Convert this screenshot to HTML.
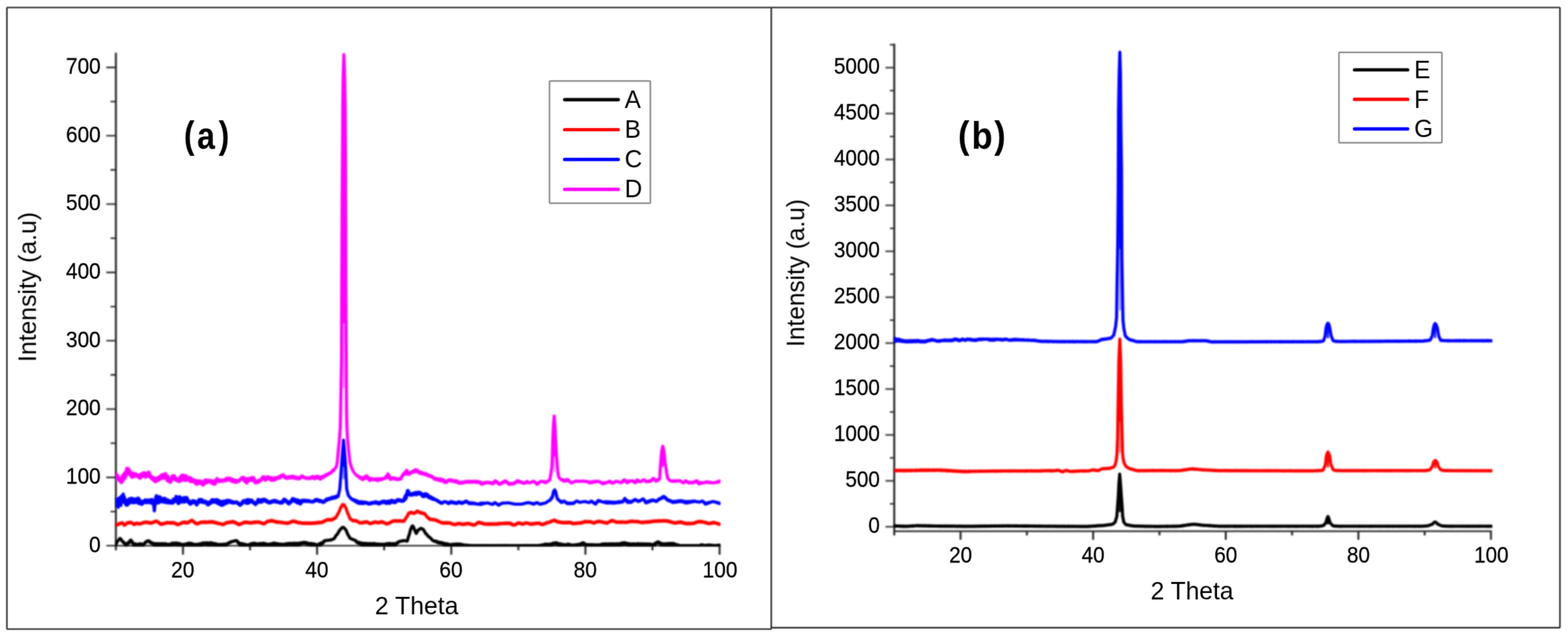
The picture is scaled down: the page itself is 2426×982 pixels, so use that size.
<!DOCTYPE html>
<html lang="en">
<head>
<meta charset="utf-8">
<title>XRD patterns (a) and (b)</title>
<style>
html,body{margin:0;padding:0;background:#fff;overflow:hidden}
svg{display:block}
text{font-family:"Liberation Sans", Arial, Helvetica, sans-serif;fill:#000}
.t text{stroke:#000;stroke-width:.3px}
.c{fill:none;stroke-width:4.8;stroke-linejoin:round;stroke-linecap:round}
.ax{stroke:#262626;fill:none}
</style>
</head>
<body>
<svg width="2426" height="982" viewBox="0 0 2426 982">
<defs>
<filter id="bl" x="0" y="0" width="2426" height="982" filterUnits="userSpaceOnUse"><feGaussianBlur stdDeviation="0.85"/></filter>
<filter id="bt" x="0" y="0" width="2426" height="982" filterUnits="userSpaceOnUse" color-interpolation-filters="sRGB"><feConvolveMatrix order="3" kernelMatrix=".0192 .1001 .0192 .1001 .5228 .1001 .0192 .1001 .0192" divisor="1" edgeMode="duplicate" preserveAlpha="false"/></filter>
<filter id="bc" x="0" y="0" width="2426" height="982" filterUnits="userSpaceOnUse" color-interpolation-filters="sRGB"><feConvolveMatrix order="3" kernelMatrix=".0311 .1141 .0311 .1141 .4191 .1141 .0311 .1141 .0311" divisor="1" edgeMode="duplicate" preserveAlpha="false"/></filter>
<filter id="bf" x="0" y="0" width="2426" height="982" filterUnits="userSpaceOnUse" color-interpolation-filters="sRGB"><feConvolveMatrix order="3" kernelMatrix=".0509 .1238 .0509 .1238 .3012 .1238 .0509 .1238 .0509" divisor="1" edgeMode="duplicate" preserveAlpha="false"/></filter>
<clipPath id="cl"><rect x="178.8" y="60" width="935.9" height="784.8"/></clipPath>
<clipPath id="cr"><rect x="1383.1" y="60" width="925.4" height="770"/></clipPath>
</defs>
<rect width="2426" height="982" fill="#fff"/>
<g filter="url(#bf)" fill="none" stroke="#2e2e2e" stroke-width="2.4" stroke-linejoin="round">
<rect x="10.7" y="11.6" width="1182.6" height="961.3" rx="0.8"/>
<path d="M1193.3 11.6H2412.7q.8 0 .8 .8V970q0 .8-.8 .8H1193.3"/>
</g>
<g filter="url(#bl)">
<path class="ax" stroke-width="3" d="M179.3 81.6V851.1M283.1 843.9V857.7M386.9 843.9V851.1M490.6 843.9V857.7M594.4 843.9V851.1M698.2 843.9V857.7M802.0 843.9V851.1M905.8 843.9V857.7M1009.5 843.9V851.1M1113.3 843.9V857.7M1383.6 67.4V828.1M1486.2 821.5V834.7M1588.8 821.5V828.1M1691.3 821.5V834.7M1793.9 821.5V828.1M1896.5 821.5V834.7M1999.1 821.5V828.1M2101.7 821.5V834.7M2204.2 821.5V828.1M2306.8 821.5V834.7"/>
<path class="ax" stroke-width="2.4" d="M177.8 843.9H1114.7M164.5 843.9H179.3M164.5 738.2H179.3M164.5 632.6H179.3M164.5 526.9H179.3M164.5 421.3H179.3M164.5 315.6H179.3M164.5 209.9H179.3M164.5 104.3H179.3M171.1 791.1H179.3M171.1 685.4H179.3M171.1 579.8H179.3M171.1 474.1H179.3M171.1 368.4H179.3M171.1 262.8H179.3M171.1 157.1H179.3M1382.1 821.5H2308.2M1370.0 814.6H1383.6M1370.0 743.6H1383.6M1370.0 672.6H1383.6M1370.0 601.6H1383.6M1370.0 530.6H1383.6M1370.0 459.6H1383.6M1370.0 388.6H1383.6M1370.0 317.6H1383.6M1370.0 246.6H1383.6M1370.0 175.6H1383.6M1370.0 104.6H1383.6M1376.8 779.1H1383.6M1376.8 708.1H1383.6M1376.8 637.1H1383.6M1376.8 566.1H1383.6M1376.8 495.1H1383.6M1376.8 424.1H1383.6M1376.8 353.1H1383.6M1376.8 282.1H1383.6M1376.8 211.1H1383.6M1376.8 140.1H1383.6M1376.8 69.1H1383.6"/>
</g>
<g filter="url(#bl)">
<g clip-path="url(#cl)">
<path class="c" stroke="#000" d="M179.2 842.5l.5-2.6l.4 .4l.5-2.4l.5 .6l.4-1.6l.5-.3l.5-.5l.4-.3l.5-.7l.5-.5l.5-.7l.5-.4l.4-.6l.5-.2l.5 .2l.5 .8l.5 .3l.5 1.2l.6 .4l.5 1.2l.5 .2l.5 1l.5-.3l.5 1.2l.5-.3l.5 1.3l.5-.2l.5 1.6l.5-.7l.5 1.9l.5-1.1l.5 1.2l.5-1.6l.5 .7l.5-1l.6 .9l.5-1.9l.5 1.8l.5-2.6l.5 1.8l.4-2.5l.5 .8l.5-1.8l.5 .1l.5-1.5l.4-.1l.5-.6l.5 .7l.5 .3l.5 1.5l.5-.3l.4 2l.5 0l.5 2l.5-1.1l.5 2.5l.5-2l.5 1.8l.4-1.7l.5 1.8l.5-1.3l.5 1.6l.5-1.6l.5 1.5l.4-1.2l.5 1.3l.5-1l.5 1l.5-.9l.5 .8l.5-1.2l.5 1l.5-1.3l.5 1.3l.5-1.3l.5 1.5l.5-1.9l.5 1.9l.5-1.3l.5 1.2l.5-1.4l.5 1.4l.5-1.3l.5 1.3l.5-1.1l.5 .8l.5-.9l.5 1l.5-1.6l.5 .5l.5-1.9l.5 .5l.5-1.5l.5 .3l.5-1l.5 .3l.5-.9l.6 .1l.5-.7l.5-.1l.5-.4l.5 .4l.5-.1l.5 .9l.5-.2l.5 1.3l.5-.7l.5 1.5l.5-.8l.5 1.7l.5-1.4l.5 1.6l.5-.9l.5 1.8l.5-1.5l.6 1.7l.5-.7l.5 1.6l.5-1.5l.5 2l.5-2.1l.5 1.8l.5-1.7l.6 1.6l.5-1.5l.5 1.7l.5-1.7l.5 1.4l.5-1.6l.5 2l.5-1.7l.6 1.5l.5-1.8l.5 2.1l.5-1.8l.5 1.8l.5-1.4l.5 1.2l.5-1.7l.5 2l.5-2.1l.5 1.4l.6-1.5l.5 1.6l.5-1.3l.5 2l.5-2.1l.5 1.3l.5-1.3l.5 2l.5-1.7l.5 1.4l.5-2l.6 2.5l.5-2l.5 1.4l.5-1.1l.5 1.7l.5-1.3l.5 1.2l.5-1.4l.6 1.1l.5-1l.5 1.2l.5-.8l.5 .7l.5-1l.5 .6l.5-.8l.5 1l.5-1.3l.5 1.2l.6-2.2l.5 1.9l.5-1.2l.5 1.3l.5-2.5l.5 1.9l.5-1.2l.5 1.9l.5-1.9l.5 1.8l.5-2.3l.6 1.9l.5-2.2l.5 1.9l.5-1l.5 1.9l.5-2.3l.5 1.8l.5-1.8l.6 2.2l.5-2.1l.5 2.4l.5-2.4l.5 1.8l.5-1.4l.5 1.6l.5-1l.5 1.3l.5-1.2l.5 1.4l.5-1l.5 1.1l.5-.9l.5 .9l.5-.5l.5 .5l.5-.9l.5 1l.5-1.3l.5 .9l.5-.7l.5 1l.5-1.5l.5 1.3l.5-1.4l.5 .9l.5-1.3l.5 1.8l.5-1.8l.5 1.6l.5-2.3l.4 2.2l.5-2.5l.5 2.9l.5-2.7l.5 2.4l.5-2.2l.5 2.3l.5-1.8l.5 1.7l.4-2.4l.5 2.5l.5-1.8l.5 1.5l.5-1.4l.5 1.5l.5-.9l.5 1.2l.5-1.1l.5 1.4l.5-1.1l.5 1l.4-.9l.5 1l.5-.9l.5 .6l.5-.6l.5 .8l.5-.6l.5 .6l.5-1.1l.5 1l.5-1l.5 1.2l.5-1.7l.5 1.6l.5-1.7l.5 .9l.4-.8l.5 1.2l.5-1.5l.5 .9l.5-1.3l.5 2l.5-2.4l.5 1.6l.5-1.6l.5 1.9l.5-2.6l.5 2.3l.5-2.2l.5 2.5l.5-2.2l.5 1.6l.5-1.8l.5 2.1l.5-2.1l.5 2.1l.5-1.9l.5 2.1l.5-2.7l.5 3.2l.5-2.7l.5 2.1l.4-1.9l.5 2.6l.5-2.5l.5 2.4l.5-2.4l.5 2l.5-2.8l.5 3l.5-2.3l.5 1.9l.5-2.4l.5 2.9l.5-2.5l.5 2.7l.5-2.4l.5 2l.5-1.3l.5 2.1l.6-2.4l.5 2.2l.5-2.2l.5 2.3l.5-1.6l.5 1.6l.5-1.8l.5 1.6l.5-1.3l.6 1.7l.5-1.1l.5 .8l.5-.8l.5 .7l.5-.7l.5 .8l.5-.6l.5 .8l.5-1.1l.4 .9l.5-.7l.5 .8l.5-1l.5 .7l.5-.9l.5 1.1l.5-.7l.5 .7l.5-.8l.5 1l.5-1.2l.4 .9l.5-1.2l.5 1.4l.5-1.2l.5 1.1l.5-1.1l.5 1.1l.5-1.4l.5 1l.5-1.7l.5 1l.4-1.5l.5 1l.5-1.4l.5 .6l.5-.9l.5 .3l.5-.9l.5 .3l.4-1l.5 .2l.5-.6l.5 .1l.5-.4l.5 .2l.5-.4l.5 .1l.5-.2l.5 0l.5-.3l.5 0l.4-.4l.5 .2l.5-.4l.5 0l.5-.2l.5 .1l.5-.3l.5 .1l.5 .1l.5 .9l.5-.1l.5 1.8l.5-.9l.5 2.3l.5-.8l.5 1.8l.5-1.6l.5 2.9l.5-1.7l.5 1.6l.5-1.8l.5 2.1l.5-1.9l.5 1.9l.4-1.7l.5 1.6l.5-1.7l.5 1.9l.5-1.6l.5 2l.5-1.6l.5 1.3l.5-1.1l.5 .9l.5-.7l.5 1.1l.4-.7l.5 .9l.5-.9l.5 .7l.5-.4l.5 .5l.5-.3l.5 .2l.5-.4l.5 .4l.5-.6l.4 .5l.5-.8l.5 1l.5-1.5l.5 1.4l.5-1.9l.5 1.5l.5-1.6l.4 2.1l.5-2.6l.5 2.2l.5-1.8l.5 2l.5-2.8l.5 2l.5-1.8l.6 2.1l.5-2.3l.5 2.2l.5-1.9l.5 2.3l.5-1.8l.5 1.1l.5-1l.5 1.3l.6-1.1l.5 1.1l.5-1.2l.5 1.5l.5-1.3l.5 1.3l.5-1.7l.5 1.4l.5-1.8l.5 2.3l.6-2l.5 2l.5-1.9l.5 2l.5-2.5l.5 2.2l.5-2.3l.5 1.9l.5-1.6l.5 2.2l.5-3l.5 3l.5-2.1l.5 1.7l.5-1.5l.5 2.1l.5-1.8l.4 1.2l.5-1.3l.5 1.6l.5-1.1l.5 .9l.5-.8l.5 1l.5-.8l.5 .6l.5-.6l.5 .6l.5-.7l.5 1l.5-1.7l.5 1.5l.5-1.3l.5 1.3l.4-1.5l.5 2l.5-2.4l.5 2.2l.5-2.2l.5 1.8l.5-1.9l.5 2.4l.5-3.4l.5 3.3l.5-2.6l.5 2.5l.5-2l.5 1.7l.6-2.1l.5 2.2l.5-1.7l.5 1.3l.5-1.1l.5 1.3l.5-1.7l.5 2.3l.5-1.7l.5 1.7l.5-1.5l.5 .9l.5-.9l.6 1.1l.5-1.1l.5 1.6l.5-1.6l.5 1.3l.5-.9l.5 .9l.5-1.1l.5 1.3l.5-1.4l.5 1l.5-.9l.5 1.2l.5-1.1l.5 1.1l.5-1.5l.5 1.1l.5-1.4l.5 1.8l.5-2.1l.5 2l.5-2l.5 1.3l.5-1.5l.5 1.8l.5-1.8l.5 1.9l.5-1.7l.5 1.7l.5-2.2l.5 1.7l.5-1.3l.5 1.7l.5-2.1l.5 2.2l.5-1.8l.5 1.4l.5-1.5l.5 1.6l.5-2l.5 2.6l.5-2.6l.5 2.7l.5-2.6l.4 1.4l.5-1.4l.5 2l.5-2l.5 2.4l.5-2.5l.5 2l.5-2l.4 3l.5-2.8l.5 1.9l.5-1.6l.5 1.9l.5-2.6l.5 2.1l.5-1.7l.5 1.7l.6-1.8l.5 1.6l.5-2.5l.5 2.2l.5-1.7l.5 1.3l.5-1.7l.6 1l.5-1.3l.5 1.3l.5-1.4l.5 1.2l.5-1.8l.5 2l.5-1.6l.5 1.6l.5-1.5l.5 1.6l.5-1.7l.5 1.9l.5-1.6l.5 2.3l.4-2.1l.5 2.2l.5-1.8l.5 1.9l.5-1.3l.5 1.1l.5-1l.5 1.6l.5-1.6l.5 1.7l.5-1.2l.5 1.6l.5-2.2l.5 1.9l.5-1.8l.5 2.1l.5-1.7l.5 1.3l.5-.9l.5 1.3l.5-1.7l.5 1.7l.5-1.5l.5 1.8l.5-1.2l.5 .8l.6-.7l.5 1.1l.5-.6l.5 .7l.5-.4l.5 .4l.5-.5l.5 .5l.5-.6l.5 .3l.5-1.2l.5 1.1l.4-1.3l.5 1l.5-1.9l.5 2.2l.5-2.2l.5 1.9l.5-2.5l.5 1.8l.5-2.1l.5 1.8l.5-2.4l.5 1.2l.5-2l.5 .7l.5-1.8l.5 .3l.5-.9l.5 0l.5-.5l.5 .2l.5-.3l.5 .2l.6-.2l.5 0l.5-.1l.5 0l.5-.2l.5 .1l.5-.2l.5 0l.5-.2l.6 .1l.5-.2l.5 .1l.5-.2l.5 .1l.5-.3l.5 0l.5-.4l.5 0l.5-.4l.5 0l.5-.3l.5 0l.5-.3l.5-.3l.5-.7l.5-.5l.5-.9l.5-.7l.4-1l.5-.6l.5-.9l.5-.4l.5-.5l.5-.4l.5-.8l.5-.6l.5-1l.5-.9l.5-1l.5-.7l.5-1l.5-.5l.5-.6l.5-.3l.5-.8l.5-.6l.5-.8l.5-.4l.5-.3l.5-.2l.5-.5l.5-.1l.5 .1l.5 .5l.5 .2l.5 .3l.5 .4l.5 .8l.5 .6l.5 .8l.5 .3l.5 .9l.4 .9l.5 1.4l.5 1.2l.5 1.4l.4 .9l.5 .9l.5 .4l.4 .9l.5 .9l.5 1.1l.5 .8l.4 1l.5 .4l.5 .3l.5 0l.5 .3l.5 .1l.5 .4l.5 .1l.6 .4l.5 0l.5 .4l.5 .1l.5 .3l.5 0l.5 .2l.5 0l.5 .7l.5-.1l.4 .8l.5 .1l.5 1.1l.5-.6l.5 1.6l.4-.7l.5 1.6l.5-1.2l.5 1.8l.5-1.4l.5 1.4l.5-1.6l.5 2.5l.5-1.9l.5 1.9l.6-1.3l.5 2l.5-2.2l.5 2.6l.5-1.7l.5 2.4l.5-3l.5 3l.5-2l.5 1.6l.5-2.1l.5 1.7l.5-1.5l.5 2l.5-2.3l.5 2.6l.5-2l.5 1.8l.5-2.4l.5 2.8l.5-2.2l.5 2.1l.5-2l.5 1.4l.5-1.7l.5 1.7l.5-1.1l.5 1.4l.5-2l.5 2.3l.5-2.6l.5 2.4l.5-1.9l.5 2.1l.5-1.9l.5 1.7l.5-1.9l.5 1.9l.5-2l.5 1.9l.5-2.2l.5 2.5l.5-2.5l.5 1.9l.5-1.5l.5 1.5l.5-1.5l.4 1.8l.5-1.7l.5 1.6l.5-1.2l.5 1l.5-1.2l.5 1.6l.5-1.3l.5 1.5l.5-1.6l.5 1.2l.5-1l.5 1.1l.5-1.1l.5 1l.4-.6l.5 .9l.5-1.2l.5 1.3l.5-1.2l.5 1.3l.5-1.2l.5 .7l.5-1l.5 1.3l.5-1l.5 1l.5-.9l.5 .9l.5-1.5l.5 1l.5-.7l.5 .7l.4-1.2l.5 1.9l.5-2.1l.5 1.4l.5-1.8l.5 2.4l.5-2l.5 1.7l.5-2l.5 2l.5-2.3l.5 2.3l.5-1.8l.5 1.8l.5-1.9l.5 1.8l.5-1.9l.5 2l.5-1.6l.4 1.3l.5-1.5l.5 1.3l.5-1.5l.5 2.2l.5-2.2l.5 1.7l.5-1.6l.5 2l.5-1.9l.5 2l.5-2.3l.5 1.1l.5-1.6l.5 1.2l.5-2.1l.5 .9l.6-1.4l.5 .6l.5-1.3l.5 .2l.5-.7l.5 0l.5-.4l.5 .1l.5-.2l.5 0l.5-.2l.5 0l.5-.2l.6 0l.5-.3l.5 .1l.5-.2l.5 0l.5-.2l.5 0l.5 0l.5 .2l.5-.1l.5 .3l.5-.1l.5 .2l.5 0l.5 .3l.5-.1l.5 .1l.5-1.1l.4-1.5l.5-2l.5-1.7l.4-1.7l.5-1.1l.5-1.3l.5-1.6l.4-2.1l.5-1.9l.5-1.9l.5-1l.5-1.2l.5-1.3l.5-1.2l.6-.4l.6-.6l.5 .7l.4 .6l.5 .5l.6 1.3l.5 1.9l.6 1.3l.5 .9l.5 1l.5 1.5l.5 1l.5 1l.5-.7l.4-.6l.5-1l.5-.9l.5-1l.4-.6l.5-.7l.5 0l.5-.5l.5-.2l.5-.6l.6-.2l.5-.5l.5-.1l.5-.3l.5 .2l.4 .1l.5 .4l.5 .2l.5 .4l.4 .1l.5 .3l.5 .4l.5 .9l.5 .8l.6 1.2l.5 .9l.5 1l.5 .7l.5 .7l.5 .1l.5 .6l.5 .4l.5 .8l.4 .4l.5 .8l.5 .5l.5 .6l.5 .3l.5 .5l.5 .1l.5 .5l.5 .3l.5 .5l.5 .5l.5 .6l.5 .4l.5 .7l.5 .4l.5 .7l.5 .3l.5 .6l.5 .2l.5 .4l.5-.1l.5 .4l.5-.2l.5 .5l.5-.3l.5 .6l.5-.4l.5 1l.5-.9l.5 1.1l.4-.5l.5 .8l.5-.8l.5 1.7l.5-.9l.5 1.2l.5-1.3l.5 1.5l.5-.9l.5 1.2l.5-1.4l.5 1.5l.5-1.1l.5 1.3l.4-1.4l.5 1.6l.5-1.4l.5 1.8l.5-1.6l.5 2l.5-1.4l.5 1.9l.4-1.9l.5 2.3l.5-1.7l.5 1.9l.5-1.8l.5 1.9l.5-1.9l.5 2l.6-1.7l.5 1.9l.5-2l.5 1.7l.5-1.4l.5 1.4l.5-1l.5 .9l.5-.5l.6 .6l.5-.7l.5 .7l.5-.3l.5 .4l.5-.5l.5 .7l.5-1.1l.5 1.1l.5-1l.5 .8l.5-1.2l.5 1l.5-.6l.5 .7l.5-.7l.4 1l.5-1.6l.5 1.6l.5-1.2l.5 1.3l.5-1.8l.5 1.3l.5-1l.5 1.5l.5-1.6l.5 .8l.5-1.1l.5 1.8l.5-1.5l.5 .8l.5-.8l.5 1.3l.5-1.1l.5 1l.5-1.1l.5 1.1l.5-.8l.5 1l.4-.7l.5 .9l.5-.8l.5 .7l.5-.4l.5 .4l.5-.3l.5 .3l.5-.1l.5 .2l.5-.1l.5 .1l.5-.1l.5 .2l.5-.1l.5 .2l.5-.1l.5 .2l.5-.1l.5 .2l.6-.1l.5 .2l.5-.1l.5 .2l.5-.1l.5 .2l.5-.1l.5 .2l.5-.1l.5 .1l.5-.1l.5 .2l.5-.2l.5 .1l.5-.1l.5 .2l.5-.2l.5 .2l.5-.2l.5 .2l.5-.1l.5 .1l.5-.1l.5 .1l.5-.2l.5 .2l.5-.1l.5 .1l.5-.2l.5 .2l.5-.1l.5 .1l.5-.1l.5 .1l.5-.1l.5 .1l.5-.1l.5 .1l.5-.1l.5 .1l.5-.1l.5 .2l.5-.2l.5 .1l.5-.1l.5 .1l.5-.1l.5 .2l.5-.2l.5 .2l.5-.2l.5 .1l.5-.1l.5 .2l.5-.2l.5 .2l.5-.2l.5 .1l.5-.1l.5 .2l.5-.1l.5 0l.5-.1l.5 .1l.5-.1l.5 .2l.5-.2l.5 .2l.5-.2l.5 .2l.5-.2l.5 .2l.5-.2l.5 .1l.5-.1l.5 .2l.5-.1l.5 .1l.5-.2l.5 .2l.5-.2l.5 .2l.5-.2l.5 .1l.5-.1l.5 .1l.5-.1l.5 .1l.5-.1l.5 .2l.5-.2l.5 .2l.5-.2l.5 .2l.5-.2l.5 .1l.5-.1l.5 .2l.5-.2l.5 .1l.5-.1l.5 .1l.5-.1l.5 .1l.5-.1l.5 .1l.5-.1l.5 .1l.5-.1l.5 .1l.5-.1l.5 .1l.5-.1l.5 .1l.5-.1l.5 .1l.5-.1l.5 .1l.5-.1l.5 .1l.5-.1l.5 .1l.5-.1l.5 .1l.5-.1l.5 .1l.5-.2l.5 .2l.5-.2l.5 .2l.5-.1l.5 .1l.5-.2l.5 .2l.5-.2l.5 .2l.5-.2l.5 .2l.5-.2l.5 .2l.5-.2l.5 .2l.5-.2l.5 .2l.5-.1l.5 .1l.5-.2l.5 .1l.5-.1l.5 .2l.5-.2l.5 .2l.5-.2l.5 .1l.5-.1l.5 .1l.5 0l.5 0l.5-.1l.5 .2l.5-.1l.5 .1l.5-.2l.5 .2l.5-.1l.5 .1l.5-.2l.5 .2l.5-.2l.5 .2l.5-.1l.5 .1l.5-.1l.5 .1l.5-.1l.5 .1l.5-.1l.5 .1l.5-.1l.5 .1l.5-.1l.5 .1l.5-.1l.5 .1l.5-.1l.5 .1l.5-.1l.5 .2l.5-.2l.5 .2l.5-.2l.5 .1l.5-.1l.5 .1l.5-.1l.5 .2l.5-.2l.5 .1l.5-.1l.5 .2l.5-.2l.5 .2l.5-.2l.5 .1l.5-.1l.5 .1l.5-.1l.5 .1l.5-.2l.5 .2l.5-.2l.5 .1l.5-.1l.5 .1l.5-.1l.5 .1l.5-.2l.5 .1l.5-.2l.5 .1l.5-.3l.5 0l.5-.2l.5 .1l.5-.3l.5 .1l.5-.2l.5 .2l.5-.4l.5 .4l.5-.4l.5 .2l.5-.6l.6 .7l.5-1l.5 .7l.5-.9l.5 1.1l.5-1.5l.5 1.3l.5-1.2l.5 1.3l.5-1.1l.5 .9l.4-.9l.5 1l.5-1l.5 .9l.5-.9l.5 1.2l.5-.9l.5 .8l.5-1.2l.5 1l.5-1.2l.5 1.1l.5-1.1l.5 1.2l.5-1.8l.5 1.2l.5-1.6l.5 1.7l.5-2.1l.5 1.6l.5-1.6l.5 1.2l.5-1.6l.5 1.8l.5-1.8l.5 1.7l.5-1.4l.5 1.3l.5-1.9l.6 2.7l.5-2l.5 1.9l.5-1.6l.5 2l.5-1.5l.5 1.4l.6-1.1l.5 1.5l.5-1.7l.5 1.8l.5-1.5l.5 1.6l.5-1.3l.5 1.4l.5-1.3l.5 1.4l.5-1.2l.5 .8l.4-.5l.5 .8l.5-.7l.5 .8l.5-.7l.5 .7l.5-.4l.5 .4l.5-.5l.5 .5l.5-.8l.6 .8l.5-.9l.5 .9l.5-1.3l.5 1.2l.5-1.3l.5 1.4l.5-1.2l.5 1l.5-.8l.5 1l.5-.7l.5 .8l.5-.5l.5 .3l.5-.1l.5 .3l.5-.2l.5 .2l.5-.1l.5 .1l.5-.2l.5 .3l.5-.4l.5 .4l.5-.5l.5 .3l.5-.3l.5 .3l.5-.5l.4 .4l.5-.6l.5 .7l.5-.6l.5 .5l.5-.6l.5 .7l.5-1.1l.5 .8l.5-.9l.5 1.2l.5-1.5l.6 1.3l.5-1.6l.5 1l.5-1.6l.5 1.2l.5-1.9l.6 1.6l.5-1.9l.5 1.8l.5-1.8l.5 2.4l.4-2.3l.5 2.3l.5-1.3l.5 1.5l.5-.7l.5 1.3l.4-.9l.5 1.1l.5-1l.5 .9l.5-.6l.5 .5l.5-.5l.5 .6l.5-.4l.5 .4l.5-.5l.5 .6l.5-.6l.5 .4l.5-.3l.5 .5l.5-.4l.5 .4l.5-.5l.5 .5l.5-.6l.5 .6l.5-.6l.5 .7l.5-.5l.5 .3l.5-.2l.5 .2l.5-.4l.5 .4l.5-.2l.5 .2l.5-.2l.5 .3l.5-.4l.5 .4l.5-.3l.5 .4l.5-.5l.5 .4l.5-.3l.5 .3l.5-.4l.5 .4l.5-.5l.5 .6l.5-.8l.5 .7l.6-.9l.5 .6l.5-.6l.5 .8l.5-1.6l.5 1.1l.5-1.2l.5 1.1l.5-.7l.5 1.1l.5-1.6l.5 1.3l.5-.9l.5 1.3l.5-1.8l.5 1.4l.5-.9l.6 1.1l.5-1.3l.5 1.4l.5-1.4l.5 1.5l.5-1.6l.5 1.8l.5-1.6l.5 1.5l.5-1.9l.5 1.6l.5-1.1l.5 1.3l.5-1.8l.5 1.9l.5-1.3l.5 1.3l.5-2l.5 1.7l.5-1.5l.5 1.9l.5-2.1l.6 1.4l.5-1l.5 1.3l.5-1.4l.5 1.2l.5-1l.5 1.4l.5-1.8l.5 1.2l.5-1.3l.5 1.9l.5-1.5l.5 1.7l.5-2.1l.5 2.1l.5-1.7l.5 1.3l.5-1.7l.5 1.2l.5-1.1l.5 .7l.5-1l.5 1.9l.6-2.7l.5 2.2l.5-2.1l.5 1.9l.5-2.4l.5 2.1l.5-1.7l.5 2l.5-2.4l.5 1.8l.5-1.8l.5 1.6l.5-1.7l.5 2.4l.5-2l.5 1.4l.6-1l.5 2.1l.5-1.6l.5 1.3l.5-1.4l.5 2l.5-1.3l.6 1.2l.5-1.8l.5 1.8l.5-1.4l.5 1.5l.5-.9l.5 1l.5-1.5l.5 1.7l.5-1.8l.5 1.7l.5-1.2l.4 .9l.5-1.4l.5 1.6l.5-1.8l.5 1.9l.5-1.6l.5 1.4l.5-1.1l.5 1.1l.5-1.2l.5 1.8l.5-2.1l.5 2l.5-2.1l.5 1.7l.4-1.5l.5 1.6l.5-2.1l.5 1.5l.5-1l.5 1.4l.5-1.5l.5 1.6l.5-1.6l.5 1.2l.5-.8l.5 .9l.5-1.3l.5 1.5l.5-1.6l.5 1.5l.5-1.4l.5 1.9l.5-1.8l.5 1.4l.5-1.5l.5 1.5l.5-1.3l.4 1.3l.5-1.5l.5 1.6l.5-1.6l.5 2l.5-1.6l.5 1.1l.5-1.4l.5 1.7l.5-1.4l.5 1.3l.5-1.6l.5 1.6l.5-1.6l.5 1.4l.5-1.2l.5 1l.5-.8l.5 1.3l.4-.8l.5 .8l.5-.8l.5 1l.5-.8l.5 .6l.5-.7l.5 .5l.6-1l.5 .9l.5-1.2l.6 1.2l.5-2.3l.5 1.8l.5-1.7l.5 1l.5-2.1l.5 1.2l.6-1.8l.5 .5l.5-1.3l.5 .9l.5-.8l.5 1.3l.5-.3l.4 1.8l.5-1.7l.5 2.4l.5-1.3l.5 2l.5-2.3l.5 2.1l.5-1.7l.5 1.7l.5-1.1l.5 2.2l.5-1.9l.5 1.3l.5-1.2l.5 .9l.5-1.1l.5 1.4l.5-1.3l.5 1.7l.6-2l.5 1.7l.5-1.5l.5 1.5l.5-1.9l.5 1.9l.5-1.7l.5 1.7l.5-1.6l.5 1.4l.5-1.8l.5 2l.5-1.8l.5 1.4l.5-1.8l.5 2.2l.6-2.2l.5 2.1l.5-2.1l.5 2.7l.5-2.5l.5 1.5l.5-1.7l.5 1.9l.5-1.5l.5 2.2l.5-2.3l.5 2l.5-1.1l.5 1l.5-.7l.5 .7l.5-.8l.5 1.1l.5-.7l.6 1.1l.5-.9l.5 1.1l.5-.7l.5 .9l.5-.6l.5 .5l.5-.2l.5 .4l.5-.2l.5 .3l.5-.1l.5 .2l.5-.2l.5 .2l.5-.2l.5 .1l.5-.1l.5 .1l.5 0l.5 0l.5-.1l.5 .2l.5-.2l.5 .2l.5-.1l.5 0l.5-.1l.5 .2l.5-.2l.5 .2l.5-.2l.5 .1l.5 0l.5 .1l.5-.2l.5 .2l.5-.2l.5 .2l.5-.2l.5 .2l.6-.2l.5 .2l.5-.2l.5 .2l.5-.1l.5 .1l.5-.2l.5 .2l.5-.2l.5 .1l.5 0l.5 .1l.5-.2l.5 .2l.5-.2l.5 .1l.5 0l.5 .1l.5-.1l.5 .1l.5-.2l.5 .2l.5-.2l.5 .2l.5-.2l.5 .2l.5-.2l.5 .2l.5-.1l.5 .1l.5-.4l.5-.1l.5-.5l.5 .1l.5-.6l.5 .6l.5-.4l.5 .4l.4-.3l.5 .4l.5-.3l.5 .5l.5-.1l.4 .2l.5-.1l.5 .3l.5-.2l.5 .1l.5-.1l.5 0l.5-.2l.5 .1l.5-.2l.6 .1l.5-.3l.5 .2l.5-.2l.5 .1l.5-.3l.5 .2l.5-.2l.5 .3l.5-.1l.5 .2l.6-.2l.5 .3l.5-.2l.5 .3l.5-.1l.5 .3l.5-.1l.5 .2l.5-.1l.5 .2l.6-.2l.5 .3l.5-.2l.5 .2l.5-.1l.5 .1l.5-.2l.5 .1l.5-.3l.5 .1l.5-.3l.5 .1l.5-.2l.5 0l.5-.2l.5 .2l.5-.1l.4 .2l.5-.1l.5 .1"/>
<path class="c" stroke="#f00" d="M179.2 812.2l.5-.9l.5 .6l.5-.9l.5 .5l.5-.7l.5 .6l.5-1l.5 .6l.5-1l.5 .6l.6-.9l.5 .5l.5-1.1l.5 .8l.5-1l.5 .7l.5-.9l.5 .5l.5-.9l.5 .7l.5-.3l.5 1.2l.6 .1l.5 1.6l.5-.2l.5 .9l.5-.9l.5 .6l.5-1.2l.5 .1l.5-1l.6 .4l.5-1.2l.5 .2l.5-1.1l.5 .6l.5-.6l.5 .5l.5-.8l.5 .8l.5-.9l.5 .8l.5-.8l.5 .7l.5-.8l.5 .7l.5-.5l.5 .7l.6-.2l.5 1.1l.5-.2l.5 1l.5-.2l.6 .8l.5-.2l.5 .5l.5-1.1l.5 .7l.5-1.2l.6 .7l.5-1.2l.5 .7l.5-.9l.5 .8l.5-.6l.5 .7l.5-.4l.5 .7l.5-.3l.5 .8l.5-.6l.5 .3l.5-.7l.5 .4l.6-.5l.5 .4l.5-.7l.5 .4l.5-.7l.5 .3l.5-.7l.5 .5l.5-1l.5 .7l.5-1l.6 .6l.5-.6l.5 .4l.5-.8l.5 .6l.5-.7l.5 .8l.5-.6l.5 .8l.5-.7l.5 .8l.5-.6l.5 .9l.6-.7l.5 .8l.5-.5l.5 .5l.5-.7l.5 1l.5-.7l.5 .8l.5-.9l.5 .8l.5-.9l.5 .8l.5-1l.6 .5l.5-.9l.5 .5l.5-.9l.5 .3l.5-.6l.5 .4l.5-.8l.6 .6l.5-.9l.5 .4l.5-.6l.5 .6l.5-.5l.5 .8l.5-.1l.5 .7l.5-.1l.5 1.1l.6-.3l.5 1l.5-.3l.5 1.1l.5-.2l.5 1.1l.5-.5l.5 .8l.5-.7l.5 .4l.5-.7l.5 .6l.6-.9l.5 .5l.5-.7l.5 .6l.5-.9l.5 .5l.5-.7l.5 .6l.5-.9l.5 .3l.6-.9l.5 .8l.5-.6l.5 .5l.5-1.1l.5 .9l.5-.5l.5 .7l.5-.9l.6 .6l.5-.4l.5 .7l.5-.7l.5 .7l.5-.8l.5 .8l.5-.8l.5 1l.5-.7l.6 .6l.5-.7l.5 .8l.5-.9l.5 .6l.5-.6l.5 .9l.5-.3l.5 .7l.5-.3l.5 .8l.6-.3l.5 1.1l.5-.7l.5 1l.5-.4l.5 .8l.5-.7l.5 .6l.5-1l.5 .5l.6-.7l.5 .2l.5-.6l.5 .4l.5-.8l.5 .4l.5-1.2l.5 .6l.5-1l.5 .5l.6-.8l.5 .6l.5-1l.5 .7l.5-1l.5 .8l.5-.5l.4 .7l.5-.6l.5 .8l.5-.8l.5 .9l.5-.6l.4 1.1l.5-.8l.5 .7l.5-1.1l.5 .6l.5-.9l.5 .5l.5-1.3l.5 .5l.6-1.2l.5 .6l.5-1.2l.5 .6l.5-1l.5 .3l.5-.8l.5 .8l.5-.4l.5 1l.6-.2l.5 .8l.5-.3l.5 1.4l.5-.6l.5 1.3l.5-.4l.5 1.3l.5-.4l.6 1.2l.5-.6l.5 .8l.5-.3l.5 .3l.5-.6l.5 .4l.5-.8l.5 .4l.5-1l.6 .4l.5-.8l.5 .6l.5-1.1l.5 .7l.5-.9l.5 .5l.5-.7l.5 .6l.5-.7l.5 .6l.5-.4l.5 .7l.5-.8l.5 .8l.6-.9l.5 .6l.5-.7l.5 .8l.5-.8l.5 .9l.5-.6l.5 .5l.5-.6l.5 .6l.5-.6l.5 .6l.5-.9l.5 .6l.5-.5l.5 .6l.5-.8l.5 .9l.5-.8l.6 .7l.5-.8l.5 .7l.5-.8l.5 1l.5-.7l.5 .5l.5-.7l.5 .9l.5-.8l.5 .9l.5-.7l.6 .9l.5-.5l.5 .7l.5-.6l.5 1.1l.5-.7l.5 .9l.5-.4l.5 .7l.6-.7l.5 .9l.5-.5l.5 .9l.5-.9l.5 .8l.5-.5l.5 .8l.5-.5l.5 .7l.5-.4l.4 .5l.5-.3l.5 .7l.5-.5l.5 1l.5-.9l.5 1l.5-.7l.5 .5l.5-.8l.5 .4l.5-1.1l.5 .6l.5-1l.6 .5l.5-1.2l.5 .7l.5-1.1l.5 .7l.5-1l.5 .5l.5-.5l.5 .4l.5-.7l.5 .8l.5-.8l.5 .5l.5-.8l.5 .7l.5-.7l.6 .3l.5-.6l.5 .7l.5-.9l.5 .7l.5-.9l.5 .8l.5-1l.5 .8l.5-.6l.5 .9l.5-.4l.5 1.1l.5-.8l.5 1.1l.5-.4l.5 1l.6-.3l.5 .7l.5-.5l.5 1.2l.5-.5l.5 1l.5-.7l.5 .8l.5-.5l.5 1.2l.5-1.1l.5 .7l.5-1l.5 .6l.5-1l.5 .7l.5-1l.5 .7l.5-1l.5 .2l.5-.9l.5 .5l.5-.6l.5 .4l.5-.9l.5 .6l.5-1.2l.5 .9l.5-.7l.5 .7l.5-.6l.5 .9l.4-.8l.5 .7l.5-.8l.5 .8l.5-.5l.5 .8l.5-.9l.5 .9l.4-.6l.5 .6l.5-.6l.5 .8l.5-.5l.5 .4l.5-.8l.5 .8l.5-.8l.5 .9l.5-.8l.5 .6l.5-.8l.5 .4l.5-.7l.5 .8l.5-.6l.5 .5l.5-.8l.5 .5l.5-.5l.5 .6l.5-.8l.5 .6l.5-.6l.5 .5l.5-.8l.5 .7l.5-.6l.5 .9l.5-.6l.5 .6l.5-.5l.5 .9l.5-.5l.5 .8l.5-.5l.4 .7l.5-.4l.5 .9l.5-.8l.5 1l.5-.5l.5 .8l.5-.8l.5 1.2l.5-.7l.5 .9l.5-1l.5 .4l.5-1l.5 .2l.5-1.2l.5 .3l.5-1.1l.5 .4l.5-1.1l.5 .7l.5-1l.5 .7l.5-1l.5 .9l.5-.8l.5 .7l.5-.9l.5 .6l.5-1l.5 .8l.5-.9l.5 .5l.5-.8l.5 1l.5-.8l.5 .9l.5-.6l.4 .7l.5-.6l.5 1l.5-.6l.5 .7l.5-.2l.5 .7l.5-.6l.4 .9l.5-.4l.5 .6l.5-.7l.5 .9l.5-.7l.5 .7l.5-.7l.5 .8l.5-.6l.5 .5l.5-.7l.5 1l.5-.6l.5 .8l.5-.6l.5 .6l.5-.6l.5 .7l.5-.4l.5 .4l.5-.4l.5 .7l.5-.8l.5 1l.5-.6l.5 .5l.5-.4l.5 .5l.5-.3l.5 .5l.5-.5l.5 .5l.5-.5l.5 .9l.5-.7l.5 .8l.5-.9l.5 .6l.5-.9l.5 .7l.5-.8l.5 .7l.5-1l.5 .3l.5-.9l.5 .7l.5-1.1l.5 .7l.5-1.1l.5 .5l.5-.8l.5 .7l.5-.9l.5 .5l.5-.9l.5 .9l.5-.5l.5 .8l.5-.7l.5 .8l.5-.5l.5 .9l.5-.5l.5 .9l.6-.8l.5 1.1l.5-.6l.5 .8l.5-.5l.5 .7l.5-.4l.5 .7l.5-.3l.5 .4l.5-.7l.5 .7l.5-.7l.5 .9l.5-.4l.5 .5l.5-.4l.5 .8l.5-.7l.5 .5l.5-.5l.5 .7l.5-.6l.5 .7l.5-.7l.5 .5l.5-.6l.5 .8l.5-.8l.5 .8l.5-.9l.5 1l.5-1l.5 .8l.5-.8l.4 .8l.5-.8l.5 .9l.5-.6l.5 .6l.5-.7l.5 .8l.5-1l.5 .9l.5-.7l.5 .6l.5-.5l.5 .6l.5-.7l.5 .7l.5-.6l.5 .4l.5-.8l.5 .7l.5-.8l.4 .8l.5-.7l.5 .6l.5-.8l.5 .9l.5-1.1l.5 .7l.5-.6l.5 .6l.5-.8l.5 .7l.5-1l.5 .8l.5-.7l.5 .8l.4-1l.5 .8l.5-.8l.5 .8l.5-1.1l.5 .9l.5-.7l.5 .5l.5-.6l.5 .4l.5-.7l.5 .5l.5-1.1l.5 .5l.5-.9l.5 .4l.5-1l.4 .6l.5-.9l.5 .3l.5-.8l.5 .3l.5-.7l.5 .4l.5-.9l.5 .5l.5-.8l.5 .6l.5-.7l.5 .5l.5-.6l.4 .9l.5-.9l.5 .5l.5-.4l.5 .6l.4-.6l.5 .7l.5-.7l.5 .9l.5-1.1l.5 .6l.5-1l.5 .3l.5-.8l.5 .3l.6-1l.5 .5l.5-1.2l.5 .4l.5-.9l.5 .4l.5-.8l.5-.1l.5-1.5l.5-.5l.5-1.1l.5-.4l.5-1.7l.6-.8l.5-1.1l.5-.4l.5-1.4l.5-.9l.6-1.7l.5-1.2l.5-1.7l.5-.7l.5-1.1l.5-.2l.5-1.3l.4-.4l.5-1.1l.5 .2l.4-.7l.5 .2l.5-.2l.6 .9l.5-.2l.5 1.2l.5 .6l.5 1.4l.5 .7l.5 .9l.5 .6l.4 1.7l.5 1.1l.5 1.9l.5 1.2l.4 1.7l.5 .4l.5 1.2l.4 .7l.5 1.7l.5 .9l.5 1.7l.4 .7l.5 1.2l.5-.3l.5 .9l.5-.1l.6 .9l.5-.2l.5 1l.5-.4l.5 1.2l.5-1l.5 .8l.5-.4l.5 .4l.5-.6l.5 .7l.5-.3l.5 .6l.5-.7l.5 .7l.5-.5l.5 1l.5-.5l.5 .9l.5-.4l.5 1l.6-.2l.5 .9l.5-.2l.5 .7l.5-.4l.5 1l.5-.5l.5 .3l.5-.6l.5 .6l.5-.5l.5 .2l.5-.5l.5 .6l.5-.7l.5 .6l.4-1l.5 .6l.5-.8l.5 .6l.5-.5l.5 .5l.5-.8l.5 .5l.5-.6l.5 .4l.5-.5l.5 .8l.5-.7l.5 1.2l.5-.3l.5 .7l.4-.4l.5 .9l.5 0l.5 .6l.5-.3l.5 .5l.5-.7l.5 .4l.5-.8l.4 .6l.5-.8l.5 .6l.5-1l.5 .6l.5-.7l.5 .5l.5-.8l.4 .4l.5-.9l.5 .7l.5-.9l.5 .6l.5-.4l.5 .5l.5-.5l.5 .8l.5-.6l.4 .9l.5-.7l.5 .8l.5-.5l.5 .7l.5-.7l.5 .4l.5-.8l.5 .5l.5-.6l.5 .5l.5-1l.5 .7l.5-.9l.5 .7l.5-.7l.5 .9l.5-.6l.6 .8l.5-.4l.5 .9l.5-.3l.5 .9l.5-.3l.5 .4l.5-.3l.5 .8l.6-.1l.5 .6l.5-.6l.5 1l.5-.7l.5 .3l.5-.8l.5 .5l.5-.8l.5 .4l.5-.8l.5 .3l.5-.8l.5 .3l.5-.8l.5 .3l.5-.9l.5 .3l.5-.9l.5 .4l.5-.7l.5 .4l.5-.8l.5 .4l.5-.8l.5 .4l.5-.5l.5 .5l.5-.5l.5 .4l.5-.4l.5 .7l.5-.7l.5 .7l.5-.6l.5 .6l.5-.7l.5 .8l.5-.6l.5 .6l.5-.6l.4 .5l.5-.6l.5 .5l.5-.5l.5 .8l.5-.6l.5 .5l.5-.5l.5 .4l.5-.4l.5 .6l.5-.6l.5 .8l.5-.8l.5 .8l.5-.6l.5 .1l.5-1.5l.5-.2l.5-1.5l.6-.4l.5-1.7l.5 0l.5-1l.5-.2l.4-1.4l.5-.3l.5-1.5l.5-.4l.4-1.7l.5 .1l.5-.7l.4 .6l.5-1.2l.5 .4l.5-.8l.4 .5l.5-.8l.5 .6l.5-.3l.5 .8l.5-.5l.5 .9l.5-.6l.5 .7l.5-.4l.5 .6l.5-.3l.5 .4l.5-.9l.5 .2l.5-.9l.5 .2l.4-1.1l.5 .1l.5-.8l.5 .3l.5-.8l.5 .8l.5-.6l.4 .9l.5-.3l.5 .8l.5-.3l.5 .8l.5-.5l.5 1.2l.4-.7l.5 1l.5-.5l.5 .6l.5-.5l.5 .6l.5-.5l.4 .8l.5-.6l.5 1l.5-.4l.5 .6l.5-.7l.5 1.3l.5-.4l.5 1.2l.4-.1l.5 1.1l.5 .2l.5 1.1l.5 .2l.4 1.3l.5-.3l.5 1.1l.5-.3l.5 .8l.4-.2l.5 1.2l.5-.1l.4 1.1l.5-.1l.5 .5l.5-.8l.5 .7l.5-.4l.5 .5l.5-.4l.5 .8l.5-.7l.5 .7l.5-.5l.5 .6l.5-.6l.5 .8l.5-.5l.5 .4l.5-.4l.5 .8l.5-.4l.5 .7l.5-.5l.5 1.1l.4-.7l.5 1l.5-.6l.5 1.1l.5-.7l.5 1.1l.5-.4l.5 1l.5-.4l.5 .6l.5-.2l.5 .7l.4-.3l.5 .8l.5-.4l.5 .7l.5-.6l.5 1l.5-.6l.5 .5l.5-.6l.5 .8l.5-.6l.5 .7l.5-.9l.5 .9l.5-1l.5 .6l.5-.4l.4 .5l.5-.6l.5 .7l.5-.8l.5 .7l.5-.6l.5 .9l.5-.9l.5 .6l.5-.6l.5 .8l.5-.5l.5 .7l.5-.5l.5 .8l.5-.5l.5 .7l.5-.2l.6 .9l.5-.6l.5 .6l.5-.3l.5 .7l.5-.4l.5 .6l.5-.4l.5 .7l.5-.3l.5 .3l.5-.8l.5 .6l.4-.8l.5 .4l.5-.9l.5 .8l.5-.8l.4 .3l.5-.8l.5 .5l.5-.7l.5 .7l.5-.5l.5 .6l.5-.4l.5 .9l.5-.6l.6 .5l.5-.4l.5 .7l.5-.4l.5 .7l.5-.5l.5 .7l.5-.9l.5 .8l.5-.8l.5 .7l.6-.9l.5 .5l.5-.6l.5 .7l.5-.9l.5 .5l.5-.6l.5 .4l.6-.7l.5 .6l.5-.6l.5 .5l.5-.4l.5 .7l.5-.6l.5 .7l.5-.6l.5 1l.5-.5l.5 .8l.5-.5l.6 .8l.5-.6l.5 .9l.5-.4l.5 .6l.5-.4l.5 .8l.5-.7l.5 .8l.5-.8l.5 .3l.5-.5l.5 .3l.5-1.1l.5 .4l.5-1.2l.4 .4l.5-1.2l.5 .6l.5-1.2l.5 .6l.5-1l.5 .4l.5-.9l.5 .9l.5-.6l.5 .8l.5-.4l.5 .8l.5-.6l.5 .8l.5-.6l.5 1l.5-.7l.4 .8l.5-.5l.5 1l.5-.6l.5 .8l.5-.7l.5 .7l.5-.2l.5 .7l.5-.9l.5 .7l.5-.5l.5 .5l.5-.4l.5 .5l.5-.5l.5 .5l.5-.6l.5 .6l.5-.6l.5 .5l.5-.5l.5 .8l.5-.9l.5 .8l.5-.5l.5 .4l.5-.6l.5 .5l.5-.4l.5 .7l.5-.9l.5 .7l.5-.5l.5 .6l.5-.7l.5 .5l.5-.6l.5 .8l.5-.7l.5 .5l.5-.5l.5 .5l.5-.6l.5 .6l.5-.7l.5 .8l.6-.7l.5 .4l.5-.8l.5 .5l.5-.5l.5 .6l.5-.6l.6 .6l.5-.8l.5 .6l.5-.6l.5 .5l.5-.5l.5 .5l.5-.7l.5 .6l.5-.6l.5 .6l.6-.6l.5 .5l.5-.5l.5 .5l.5-.6l.5 .7l.5-.8l.5 .6l.5-.7l.5 .7l.5-.5l.5 .5l.5-.8l.6 .8l.5-.7l.5 .6l.5-.4l.5 .4l.5-.7l.5 .7l.5-.4l.5 .8l.5-.6l.5 1.1l.5-.6l.5 1.1l.6-.5l.5 1l.5-.3l.5 .8l.5-.5l.5 .7l.5-.2l.5 .2l.5-.8l.5 .5l.5-.8l.5 .4l.5-1l.5 .4l.4-1l.5 .5l.5-.9l.5 .3l.5-.9l.5 .5l.5-.6l.5 .3l.5-.4l.5 .8l.4-.6l.5 .6l.5-.3l.5 .8l.5-.7l.5 1.1l.5-.7l.4 .9l.5-.5l.5 .8l.5-.7l.5 .3l.5-.7l.4 .6l.5-.9l.5 .4l.5-.6l.5 .3l.5-.8l.4 .5l.5-.8l.5 .6l.5-.6l.5 .9l.5-.6l.5 .7l.5-.2l.5 .5l.6-.5l.5 1l.5-.7l.5 1l.5-.8l.5 .8l.5-.4l.5 .7l.5-.7l.5 .5l.5-.7l.5 .8l.5-.8l.4 .5l.5-.5l.5 .5l.5-.8l.5 .4l.5-.5l.5 .4l.5-.6l.5 .7l.5-.7l.5 .5l.5-.7l.4 .7l.5-.8l.5 .7l.5-.7l.5 .6l.5-.6l.5 .4l.5-.6l.5 .9l.4-.6l.5 1l.5-.4l.5 .9l.5-.5l.5 .7l.5-.5l.4 .9l.5-.5l.5 .7l.5-.6l.5 .5l.5-.9l.5 .5l.4-.9l.5 .5l.5-.8l.5 .4l.5-.9l.5 .7l.5-.9l.5 .4l.5-.8l.5 .3l.4-.8l.5 .3l.5-.5l.5 .4l.5-.6l.5 .4l.5-.8l.5 .6l.5-.9l.5 .7l.5-1l.5 .6l.5-1.2l.5 .5l.5-.8l.5 .4l.5-.6l.5 0l.5-.5l.5 .3l.5-.8l.5 .5l.5-.7l.5 .6l.5-.5l.5 .7l.5-.5l.5 1.2l.5-.5l.4 1l.5-.5l.5 .9l.5-.5l.5 .9l.5-.4l.5 .7l.5-.6l.5 .8l.5-.7l.6 .7l.5-.4l.5 .7l.5-.6l.5 .8l.5-.6l.5 .7l.5-.6l.6 .6l.5-.4l.5 .7l.5-.5l.5 .6l.5-.9l.5 .8l.5-.8l.5 .8l.5-.7l.5 .5l.5-.5l.5 .7l.4-.6l.5 .5l.5-.8l.5 .8l.5-.9l.5 .8l.5-.9l.5 .8l.5-.7l.5 .8l.5-.9l.5 .7l.5-.3l.5 .7l.4-.5l.5 .9l.5-.5l.5 .9l.5-.6l.4 .7l.5-.6l.5 .9l.5-.5l.5 .6l.5-.7l.5 .7l.5-.7l.5 .4l.6-.5l.5 .6l.5-.7l.5 .6l.5-.7l.5 .5l.5-.7l.5 .6l.5-.5l.5 .4l.6-.5l.5 .4l.5-.7l.5 .6l.5-.5l.5 .6l.5-.8l.5 .7l.5-.8l.5 .5l.4-.8l.5 .5l.5-1l.5 .7l.5-.9l.5 .7l.5-.9l.5 .6l.4-.8l.5 .6l.5-.8l.5 .5l.5-.7l.5 .7l.5-.6l.5 .7l.5-.6l.6 .4l.5-.3l.5 .4l.5-.6l.5 .9l.5-.9l.5 .7l.6-.4l.5 .5l.5-.6l.5 .8l.5-.8l.5 1l.5-.6l.5 1l.5-.6l.6 .9l.5-.4l.5 .8l.5-.5l.5 .7l.5-.8l.5 .6l.5-1l.4 .6l.5-.8l.5 .6l.5-1.1l.5 .5l.5-.7l.5 .5l.5-.7l.4 .4l.5-.9l.5 .5l.5-.5l.5 .3l.5-.4l.5 .5l.5-.4l.5 .7l.5-.6l.5 .8l.4-.4l.5 .6l.5-.3l.5 .5l.5-.6l.5 .9l.5-.5l.5 .9l.5-.5l.5 .5l.5-.4l.5 .7l.4-.7l.5 1l.5-.8l.5 .8l.5-.5l.5 .6l.5-.5l.5 .7l.5-.9l.5 .4l.5-.9l.4 .5l.5-1.1l.5 .6l.5-.9l.5 .2l.5-.9l.5 .3l.5-.8l.4 .5l.5-.8l.5 .4l.5-.9l.5 .5l.5-.5l.5 .9l.5-.6l.5 .7l.5-.2l.5 1l.6-.6l.5 .8l.5-.3l.5 .9l.5-.5l.5 .9l.5-.7l.5 .6l.5-.5l.5 .6l.5-.7l.5 .7l.5-.6l.5 .6l.5-.6l.5 .6l.5-.8l.5 1l.5-.8l.5 .8l.5-.9l.5 .7l.5-.8l.5 .9l.5-.8l.5 .7l.5-.5l.5 .5l.5-.5l.5 .4l.5-.4l.5 .6l.5-.7l.5 .7l.5-.7l.5 .7l.5-.7l.5 .6l.5-.5l.5 .6l.5-.9l.5 .8l.6-.9l.5 .5l.5-.8l.5 .5l.5-.8l.5 .5l.6-.6l.5 .4l.5-.7l.5 .7l.5-.4l.5 .4l.5-.5l.5 .7l.6-.9l.5 .9l.5-.6l.5 .6l.5-.5l.5 .5l.5-.6l.5 .6l.5-.5l.5 .7l.6-.6l.5 .6l.5-.6l.5 .6l.5-.8l.5 .9l.5-.5l.5 .6l.5-.4l.4 .5l.5-.3l.5 .6l.5-.3l.5 .4l.4-.2l.5 .7l.5-.8l.5 .7l.5-.5l.5 .7l.5-1l.5 .9l.5-.8l.5 .7l.5-.7l.5 .8l.5-1l.5 .8l.5-.9l.5 .7l.4-.9l.5 .7l.5-.6l.5 .9l.5-.8l.5 .4l.5-.6l.5 .6l.5-.6l.5 .6l.5-.8l.5 .9l.5-1l.5 .9l.5-.8l.5 .6l.5-.7l.5 .6l.5-.8l.5 .4l.5-.8l.5 .6l.5-.6l.5 .3l.5-.5l.5 .7l.5-.7l.5 .5l.5-.6l.5 .4l.5-.5l.5 .7l.5-.8l.5 .5l.5-.6l.5 .6l.5-.5l.5 .7l.5-.9l.5 .8l.5-.7l.5 .7l.5-.7l.5 .6l.5-.8l.6 .7l.5-.5l.5 .5l.5-.6l.5 .6l.5-.6l.5 .7l.5-.6l.5 .2l.5-.5l.5 .7l.5-.8l.5 .7l.5-.6l.5 .5l.5-.4l.5 .7l.5-.8l.5 .7l.5-.6l.5 .7l.5-.6l.5 .8l.5-.4l.5 .6l.6-.7l.5 1l.5-.3l.5 .5l.5-.5l.5 1l.5-.6l.5 .8l.5-.5l.5 .7l.5-.5l.5 .9l.5-.6l.6 .8l.5-.5l.5 .8l.5-.6l.5 .7l.5-.5l.5 .8l.5-.7l.5 .5l.5-.4l.6 .6l.5-1l.5 .5l.5-.7l.5 .5l.5-.6l.5 .6l.5-.8l.6 .7l.5-.9l.5 .8l.5-.8l.5 .3l.5-.5l.5 .8l.5-.6l.5 .9l.5-.6l.5 .7l.5-.4l.5 .6l.5-.4l.4 1l.5-.6l.5 .6l.5-.5l.5 .7l.5-.3l.5 .5l.5-.6l.5 1l.5-.9l.5 .9l.5-.8l.5 .8l.5-.6l.5 .7l.5-.6l.5 .7l.5-1l.5 .9l.5-.6l.5 .5l.4-.5l.5 .6l.5-.8l.5 .7l.5-.8l.5 .7l.5-.6l.5 .5l.5-.3l.5 .6l.5-.9l.5 .6l.5-.6l.5 .4l.5-.9l.5 .6l.5-1l.5 .5l.5-.7l.6 .1l.5-.7l.5 .5l.5-.7l.5 .2l.5-.5l.5 .4l.5-.9l.5 .5l.5-.5l.5 .8l.5-.6l.5 .7l.5-.7l.5 .4l.6-.6l.5 .9l.5-.6l.5 .7l.5-.8l.5 .8l.5-.7l.5 .7l.5-.3l.5 .5l.5-.3l.5 .7l.5-.5l.5 .9l.5-.6l.6 .8l.5-.3l.5 .6l.5-.5l.5 1l.5-.4l.5 .5l.5-.4l.5 .7l.5-.6l.5 .7l.5-.8l.5 .7l.5-.8l.6 .5l.5-.5l.5 .4l.5-.9l.5 .8l.5-.8l.5 .5l.6-.9l.5 .7l.5-.6l.5 .4l.5-.7l.5 .6l.5-.3l.5 .7l.5-.4l.6 .6l.5-.4l.5 .6l.5-.2l.5 .5l.5-.4l.5 .9l.5-.4l.5 .8l.5-.6l.6 .9l.5-.6l.5 .7l.5-.5l.5 .4"/>
<path class="c" stroke="#00f" d="M179.1 779.3l.5-6.8l.5 9.4l.5-10l.4 11.3l.5-10l.5 9.6l.5-10l.5 11.7l.5-13.7l.5 8.2l.5-9l.5 11.4l.5-10.1l.5 9.7l.6-9.6l.5 10.3l.5-14.3l.5 10.1l.5-9.5l.5 8.7l.5-10.6l.5 10.3l.5-12.4l.5 12l.5-9.4l.5 8.4l.5-5.9l.5 8.8l.5-6l.5 7.2l.5-4.8l.5 6.9l.5-6.4l.5 5l.4-5.8l.5 7.3l.5-8l.5 5.2l.5-4.5l.5 5.4l.5-7.4l.5 5l.5-5.8l.5 4.9l.5-4.5l.5 5.8l.5-5.1l.5 3.9l.5-5.7l.4 5.7l.5-5.6l.5 6.3l.5-4l.5 4.7l.4-6.3l.5 5.8l.5-4.6l.5 5l.5-4.8l.4 4.2l.5-5.3l.5 5.4l.5-4.1l.5 3.4l.5-4.6l.4 5.5l.5-6.2l.5 6.3l.5-5.6l.5 5.8l.4-7.4l.5 8.5l.5-6l.5 6.5l.5-6.7l.5 6.7l.5-5l.5 4.7l.5-3.5l.5 3.9l.5-2.7l.5 3.7l.5-4.6l.5 3.4l.4-3.1l.5 2.4l.5-3.3l.5 2.1l.5-2.9l.5 2.9l.5-3.4l.5 2.4l.5-3.2l.5 3.2l.5-2.6l.4 4l.5-4l.5 3.4l.5-3.5l.5 3.8l.4-4.1l.5 4.2l.5-3l.5 2.7l.5-3.5l.5 3.7l.4-4.1l.5 4l.5-3.7l.5 3l.5-3.7l.5 5.7l.5-5.1l.5 4.9l.4-5.8l.6 5.7l.5-4.3l.6 4l.7 4.2l.9 8.2l.9-8.2l.6-3.4l.6-9.9l.5 5.8l.6-8.1l.5 8.9l.5-7.1l.5 8l.5-8.1l.5 10l.5-9l.4 8.3l.5-9.5l.5 8.1l.5-6.6l.5 7l.4-7.8l.5 7.7l.5-6.5l.5 5.3l.6-4.4l.5 5l.5-4l.5 4.5l.5-4.5l.5 4.9l.6-5.9l.5 5.9l.5-4.9l.5 4.7l.5-6l.5 5.8l.5-4.2l.6 5.2l.5-5.1l.5 5.5l.5-4.2l.5 3.2l.5-3.6l.6 4.5l.5-4l.5 3.9l.5-3.6l.5 4l.5-3.7l.5 3.7l.6-2.2l.5 2.5l.5-3.2l.5 3.2l.5-2.8l.5 2.1l.5-2.8l.5 3.3l.5-4.1l.5 4.3l.5-6.4l.5 3.7l.5-4l.5 4.5l.5-3.3l.6 1.6l.5-3.5l.5 2.9l.5-6.3l.5 8.3l.5-6.7l.5 5.6l.5-4.3l.5 7.3l.5-8l.5 9.4l.4-8.2l.5 5.4l.5-8.3l.5 9.7l.5-9l.5 8.9l.5-7.9l.5 6.7l.5-5.4l.5 4.8l.5-5.5l.5 3.6l.5-3l.5 5.6l.6-6.1l.5 5.6l.5-6.1l.5 7l.5-6.3l.5 4.4l.5-5.3l.6 6.2l.5-6.6l.5 6.6l.5-4.8l.5 4.4l.5-5.6l.6 5.3l.5-2.2l.5 3.7l.5-3l.5 4.2l.5-3.5l.5 4.6l.6-2.6l.5 3.6l.5-3.4l.5 3.1l.5-3.4l.5 2.4l.5-2.9l.5 2.7l.5-3.7l.5 3.1l.5-3.6l.5 2.4l.5-1.7l.6 1.9l.5-1.9l.5 2.7l.5-2.5l.5 2.7l.5-1.4l.5 3.5l.6-2.8l.5 4.1l.5-4.5l.5 2.7l.5-4.2l.5 3.1l.6-4.2l.5 3.3l.5-4.8l.5 3.2l.5-3.3l.5 3.6l.5-3.6l.5 3.6l.5-3.2l.5 3.3l.6-3.7l.5 4.4l.5-3.6l.5 3.3l.5-2l.5 2.7l.5-2.4l.5 2.1l.5-2.3l.5 2.8l.5-2.3l.5 2.5l.5-2.4l.5 2.9l.5-2.1l.4 2.7l.5-2.4l.5 3.9l.5-2.6l.5 3.3l.5-3.9l.5 3.8l.5-4l.5 3l.5-3.7l.4 2.6l.5-2l.5 2.2l.5-3.1l.5 2.2l.4-3.5l.5 1.8l.5-3.7l.5 4.5l.5-3.1l.4 2.8l.5-3.7l.5 3.8l.5-4l.5 3.7l.5-3.4l.4 3.1l.5-2.6l.5 3.2l.5-3.9l.5 2.8l.5-3l.5 3.4l.5-3.6l.5 5.6l.5-4.4l.5 4.9l.5-5.3l.5 4.8l.5-4.3l.5 3.8l.5-2.4l.5 5.1l.5-4.7l.5 5.1l.5-5.5l.5 5.8l.5-4.7l.5 4.7l.5-5.4l.5 5.8l.6-6.1l.5 4.8l.5-5.2l.5 5.3l.5-5.3l.5 5.1l.5-5.1l.5 3.4l.5-3.6l.5 2.9l.6-3.5l.5 4.3l.5-3.9l.5 3.2l.5-4.1l.5 2.7l.5-2.6l.5 3.2l.5-3.1l.6 2.7l.5-2.7l.5 2.8l.5-2.2l.5 2.7l.5-2.4l.5 1.8l.6-1.2l.5 1.8l.5-1.9l.5 2.6l.5-2l.5 1.7l.6-1l.5 1.4l.5-1.3l.5 .8l.5-1l.6 1l.5-1l.5 .9l.5-1.3l.6 1.1l.5-1l.4 1.3l.5-.9l.5 2l.5-1.2l.5 2.1l.4-1.2l.5 1.8l.5-.6l.5 1.5l.5-.6l.4 1.1l.5-1.7l.5 .8l.5-2.1l.5 1.6l.5-2.5l.5 1.5l.5-3.4l.5 1.9l.5-2.6l.5 1.8l.5-2.4l.5 2.8l.5-3.4l.5 3.3l.5-3l.5 3.1l.5-3.4l.5 3.7l.6-2.8l.5 4l.5-5.9l.5 5.4l.5-4.5l.5 4.4l.5-5.7l.5 5.9l.5-4l.5 2.9l.5-3.7l.5 2.9l.5-3.3l.5 3.2l.6-3l.5 2.2l.5-2l.5 2.1l.5-1.9l.4 2.8l.5-1.5l.5 2.7l.5-1.8l.5 2.2l.4-1.2l.5 1.7l.5-.7l.5 1.9l.5-1l.4 1.7l.6-2.1l.5 .6l.5-2.5l.5 1.5l.5-2.8l.5 2.5l.6-5.2l.5 3.4l.5-3.4l.5 2.3l.5-1.9l.5 3.8l.5-3.7l.6 3.6l.5-3.1l.5 3.2l.5-3l.5 3.1l.5-3.9l.5 2.5l.5-3l.5 2.2l.5-1.9l.5 2l.4-2.7l.5 1.9l.5-1.6l.5 2.6l.5-2.6l.5 3.1l.5-2.4l.5 1.9l.5-1.4l.5 2.5l.5-1.9l.5 2.7l.5-1.5l.5 1.9l.5-1.3l.5 1.6l.5-1.8l.5 2.1l.4-1.9l.5 1l.5-1l.5 1.8l.5-2.2l.5 1.7l.5-1.9l.5 1.5l.5-2.2l.5 1.8l.5-1.3l.5 1.1l.5-2l.5 1.9l.5-2.3l.5 1.8l.5-1.8l.5 2l.5-1.8l.4 2.1l.5-1.7l.5 2.2l.5-2.1l.5 1.5l.4-.8l.5 1.2l.5-1l.5 1.6l.5-.9l.4 1l.5-.6l.5 .9l.6-1.1l.5 1.6l.5-1.4l.5 1.8l.5-1.8l.5 1.4l.5-2l.6 2l.5-2.8l.5 2.3l.5-3.5l.5 2l.5-3.7l.6 2.4l.5-2.8l.5 2.8l.5-1.9l.5 2.3l.4-2.1l.5 3l.5-2.4l.5 2.8l.5-1l.5 1.8l.5-1.4l.5 2.6l.5-1.5l.5 2.3l.5-2.3l.5 2.6l.5-2.3l.4 1l.5-2.7l.5 1.6l.5-2l.5 2.2l.5-3.4l.4 1.6l.5-3.1l.5 2.3l.5-3.7l.5 3.1l.5-2.9l.5 3.5l.5-2.4l.5 2.6l.5-3l.5 3.8l.5-3.2l.5 3l.5-2.8l.5 3.9l.5-3.1l.5 4.1l.5-4.3l.5 3.3l.5-2.7l.5 4.1l.5-4.4l.5 3.8l.5-2.8l.5 3.8l.5-3.3l.5 4.6l.5-4.4l.5 4l.5-4.8l.5 3l.6-3.4l.5 2.1l.5-2.4l.5 2.2l.5-2.1l.5 1.4l.6-1.8l.5 2.1l.5-1.7l.5 1.2l.5-1.1l.5 1.3l.5-1.7l.6 1.7l.5-.9l.5 1.2l.5-1.5l.5 1.2l.5-.7l.5 .9l.6-1.5l.5 1.3l.5-.9l.5 1.3l.5-.8l.5 .8l.5-.7l.5 1.1l.5-.6l.5 .6l.5-.4l.5 .7l.6-.7l.5 .6l.5-.8l.4 .9l.5-1.5l.5 .9l.5-1.4l.5 .8l.5-1.6l.5 1l.5-2l.5 1.8l.5-1.7l.5 1.8l.5-1.5l.5 1.4l.5-1.9l.6 2.1l.5-1.3l.5 1.4l.5-.9l.5 1.8l.5-1.8l.5 1.5l.5-1.6l.5 1.4l.5-.9l.4 1.8l.5-1.4l.5 1.1l.5-.9l.5 1.6l.4-.9l.5 1.6l.5-1.7l.5 1.3l.5-.9l.5 1l.5-1.7l.5 .7l.5-1.8l.5 1l.6-2.2l.5 1.3l.5-2.4l.5 1.8l.5-1.4l.5 1.5l.5-2.1l.5 1.6l.5-2.1l.5 1.3l.5-1.1l.5 .9l.5-1.1l.5 1l.5-1.6l.5 1.6l.5-2.2l.5 1.4l.5-1.3l.5 1l.5-1.9l.5 1.4l.5-1.3l.5 1.8l.5-1.8l.5 1.3l.5-1.6l.5 1.4l.5-1.5l.5 1.3l.5-2.1l.5 1.8l.5-2.1l.5 1.5l.5-1.9l.5 1.5l.5-1.1l.6 .4l.5-.3l2.5-11.4l1.3-16.5l1.2-16.5l1-14.8l1.1-13.4l1.2-14.4l1.3 14.4l1 13.4l1 14.8l.8 16.5l.8 16.5l2.5 9.9l4.9 5.8l.5 0l.5 .4l.5-.2l.4 .9l.5-.3l.5 .6l.5-.6l.5 1.5l.5-.6l.4 1.2l.5-1.6l.5 2.3l.5-1.4l.5 1.2l.6-1l.5 2l.5-2l.5 3.2l.5-2.5l.5 2.7l.5-1.9l.5 2.1l.5-2.1l.4 2.8l.5-2.8l.5 2.6l.5-1.7l.5 1.8l.5-2.2l.5 2.2l.5-2.6l.5 2.9l.5-2.9l.5 2.7l.4-1.7l.5 1.1l.5-1.4l.5 2l.5-2.2l.5 1.4l.5-1.4l.5 1.7l.5-1.3l.5 .9l.5-1l.5 1.2l.5-1l.5 1.2l.5-.6l.5 1.4l.6-1.2l.5 1.2l.5-.5l.5 1.2l.5-1.3l.5 1l.5-1.1l.6 .7l.5-.9l.5 1.2l.5-1.3l.5 .7l.5-1.6l.5 1.5l.5-1.3l.5 1l.5-1l.6 .5l.5-1l.5 1.4l.5-1.5l.5 .9l.5-1.2l.5 1.7l.5-2.1l.5 1.6l.5-1.2l.5 1.7l.5-1.4l.4 1.7l.5-1.7l.5 2.5l.5-2l.5 2l.4-1.4l.5 1.5l.5-1.3l.5 1.1l.5-2.2l.5 1.7l.6-1.9l.5 1l.5-1.6l.5 1.4l.5-1.7l.5 1.4l.5-1.8l.5 1.6l.5-1.6l.5 1.9l.5-1.9l.5 1.8l.5-2.1l.5 2.6l.5-2.3l.5 2.7l.5-2.5l.5 2.2l.5-1.3l.5 2.3l.5-3.2l.6 2.1l.5-2l.5 2.1l.5-3.1l.5 3.6l.5-2.1l.5 2.5l.4-3.3l.5 2.5l.5-2.9l.4 2.1l.5-2.8l.5 2.7l.5-3.4l.5 2l.5-1.3l.5 1.8l.5-1.3l.5 2.1l.6-2.2l.5 2.7l.5-2.3l.5 1.9l.4-2.3l.5 2.6l.5-2.5l.5 2l.5-2.4l.4 1.1l.5-2.2l.5 1.6l.5-1.4l.5 .8l.5-1.8l.5 1.9l.5-1.5l.5 1.8l.5-1.7l.5 1.4l.5-.7l.6 1.3l.5-1.6l.5 1.6l.5-1l.5 1.4l.5-1.2l.6 1l.5-1.3l.5 1.4l.5-1.1l.5 .6l.4-2.9l.5 2l.5-5.5l.5 4.3l.4-5.3l.5 4.8l.5-7l.6 5.1l.5-6.7l.5 3.1l.5-7.4l.6 4.6l.5-5.4l.5 4.9l.5-3.9l.4 4.4l.5-1.6l.5 3.1l.5-1l.5 1.5l.5-2l.5 1.3l.5-1.5l.5 2.2l.5-1.8l.5 1.6l.4-2.1l.5 1.5l.5-2.3l.5 2l.5-1.5l.5 1.8l.5-2.4l.5 1.9l.5-2.3l.5 2.1l.5-2.9l.5 3.8l.5-3.2l.5 3.2l.5-3.6l.5 2.2l.5-2.2l.5 2.2l.4-2.6l.5 2.5l.5-2.7l.5 2.5l.5-1.7l.5 2l.5-2.1l.6 2.5l.5-1.8l.5 2.8l.5-2.3l.5 3l.5-2.3l.5 4.1l.5-3.4l.5 3.5l.5-3.2l.5 3.6l.5-3.9l.6 2.8l.5-3.2l.5 3.7l.5-4.1l.5 3l.5-2.9l.5 2.6l.5-2.1l.5 3l.5-2.7l.5 3.3l.5-2.3l.4 3.2l.5-2.3l.5 3.3l.5-1.9l.5 2l.4-2l.5 3l.5-1.9l.5 1.4l.6-1.6l.5 2.2l.5-1.5l.5 2.5l.5-1.8l.5 1.9l.6-1.6l.5 2.1l.5-1.4l.5 1.6l.5-.8l.5 .8l.5-.4l.6 .8l.5-.4l.4 .8l.5-.3l.5 .9l.5-.6l.5 1.1l.5-.5l.5 1.3l.5-.7l.5 1.5l.5-.8l.5 1l.5-.3l.5 1.1l.5-.6l.5 1.3l.5-.6l.5 1l.5-1l.5 1.1l.4-1.2l.5 1l.5-1.2l.5 .6l.5-.9l.5 .1l.5-.7l.5 .1l.5-.4l.5-.1l.5 0l.5 .4l.4-.1l.5 .6l.5 0l.5 .7l.5-.4l.4 1.1l.5-.7l.5 1.2l.5-1.2l.5 1.6l.4-1.4l.5 1.1l.5-1.5l.5 .8l.4-1.8l.5 1l.5-.8l.5 .7l.5-1.1l.5 1.5l.5-.9l.5 1l.5-.9l.5 1.1l.5-1l.5 1.2l.5-1l.5 1.5l.5-1l.5 .8l.5-.7l.5 .8l.5-.6l.5 1.2l.5-1.3l.5 1l.5-1.4l.4 .6l.5-1.1l.5 .7l.5-1.3l.4 1.2l.5-1.3l.5 1.5l.5-.9l.5 1.2l.5-1l.5 1.2l.5-.9l.5 1.4l.5-.7l.5 .9l.5-1.3l.5 .8l.5-1.3l.5 .9l.5-1l.5 .6l.5-1.1l.5 .4l.5-1.1l.6 .4l.5-.8l.5 .6l.5-.9l.5 1l.5-.3l.5 1.3l.5-.4l.6 1.1l.5-.6l.5 1.3l.5-.6l.5 1.2l.5-1l.5 1l.6-.9l.5 1l.5-1l.5 .6l.5-.7l.5 1l.6-.9l.5 .8l.5-.8l.5 1l.5-.6l.5 .5l.5-.7l.5 .9l.5-.6l.5 .6l.5-.3l.4 .5l.5-.2l.5 .3l.5-.1l.5 .3l.5 0l.4 .2l.5 0l.5 .1l.5-.5l.6 .5l.5-.9l.5 .8l.5-1.3l.5 1.7l.5-2l.5 2l.5-2.1l.5 1.7l.5-1.2l.5 .9l.5-1.2l.5 .9l.5-1.2l.5 1.1l.5-1l.5 .6l.5-.5l.5 .3l.5-.1l.5-.1l.5-.1l.4-.1l.5-.1l.5-.1l.4-.1l.5 0l.5 0l.5 .2l.6 .1l.5 .2l.5 .1l.5 .2l.5 .2l.5 .2l.6 .2l.5 .2l.5 .2l.5 .1l.5 .2l.5 .1l.5 .1l.6 .1l.4-.3l.5-.4l.5-.5l.4-.5l.5-.5l.5-.4l.5-.3l.4 .3l.5 .1l.5 .5l.5 .2l.5 .6l.4 0l.5 .8l.5 0l.5 .7l.5-.2l.4 .8l.5-.4l.5 .6l.5-.9l.5 .3l.5-.6l.4 0l.5-.6l.5-.1l.5-.5l.5 0l.4-.5l.5 0l.5-.3l.5 .1l.5-.1l.5 0l.5 0l.5 0l.5-.1l.5 0l.5 0l.5 0l.5-.1l.5 0l.5 0l.5 0l.6-.1l.5 0l.5 0l.5 0l.5 0l.5 0l.5 .1l.5 0l.5 .1l.5 .1l.5 .1l.5 .1l.5 .1l.5 .1l.5 .1l.5 .1l.5 .1l.5 .2l.5 .1l.5 .1l.5 .1l.5 .1l.5 .1l.5 .1l.5 0l.5 .1l.5 .1l.5 0l.5 0l.5 0l.6 0l.5 0l.5 0l.5 0l.5 0l.5 0l.5 0l.6 0l.5 0l.5 0l.5 0l.5 0l.5 0l.6 0l.5-.1l.5 0l.5-.1l.5-.1l.5-.1l.5-.1l.5-.2l.5 0l.5-.2l.5-.1l.5-.2l.5-.1l.5-.1l.5-.1l.5-.2l.5-.1l.5-.2l.5 0l.5-.2l.5 0l.5-.1l.5-.1l.5-.1l.5 .1l.5 .1l.5 .2l.6-.1l.5 .4l.5-.1l.5 .5l.5-.2l.5 .5l.5-.3l.6 .6l.5-.3l.5 .7l.5-.5l.5 .7l.5-.4l.5 .4l.5-.6l.5 .1l.5-.7l.5 .2l.5-.6l.5 0l.5-.4l.5-.1l.5-.2l.5 .2l.5 .2l.5 .3l.5 .2l.5 .4l.5 .3l.4 .3l.5 .2l.5 .3l.5 .1l.5 0l.5-.2l.5 0l.5-.2l.5 0l.5-.2l.5-.1l.5-.2l.5-.1l.5-.2l.5 0l.5-.2l.5-.1l.5-.1l.5 0l.4-.2l.5-.2l.5-.3l.5-.2l.5-.4l.5-.3l.5-.3l.5-.3l.5-.4l.5-.3l.5-.4l.5-.2l.5-.3l.5-.2l.5-.2l.5-.2l.5-1l.5-.1l.5-1.6l.5 .2l.6-2.1l.5 1l.5-2l.4-.5l.4-2.6l1.2-5.5l1.7-2l1.5 3l1.6 7.5l1.4 4.3l.5 .2l.5 .4l.5 .2l.4 .6l.5-.1l.5 1.1l.5-.2l.5 1.2l.5-.6l.4 1.2l.5-.5l.5 1.3l.5-1.3l.5 .7l.6-.7l.5 .5l.5-1.1l.5 .7l.5-1l.5 .6l.5-.4l.5 1l.5-.2l.5 .7l.5 0l.5 .9l.5-.2l.5 1l.5-.4l.5 .7l.5-.5l.5 .8l.5-.7l.5 .6l.5-.7l.5 .7l.5-.6l.5 .7l.5-.8l.5 .7l.5-.7l.5 .7l.5-.6l.5 .4l.5-.3l.5 .4l.5-.6l.5 .6l.5-.6l.5 .2l.5-.8l.5 .2l.4-1l.5 .1l.5-.7l.5-.1l.5-.6l.5-.1l.4-.4l.5-.1l.5 .1l.5 .3l.6 .3l.5 .3l.5 .3l.5 .3l.5 .3l.5 .1l.6 0l.5-.1l.5 0l.5-.1l.5-.1l.5-.1l.5-.1l.6-.1l.5-.1l.5-.1l.5-.1l.5 0l.5-.1l.5-.1l.6-.1l.5 0l.5 .1l.5 .1l.5 .1l.5 .2l.5 .1l.5 .2l.5 .1l.5 .2l.5 .1l.6 .2l.5 0l.5 .2l.5 0l.4-.1l.5-.4l.5-.2l.5-.7l.4 0l.5-.7l.5 .3l.5-.3l.5 .8l.5-.2l.5 .9l.5-.4l.5 1.1l.5-.1l.5 .8l.5-.2l.5 .9l.6-.2l.5 1l.5-.5l.5 .3l.5-1.4l.5 0l.5-1.5l.5 0l.6-1.3l.5 .1l.5-1.2l.5 .7l.5-.5l.5 .7l.6-.4l.5 .6l.5-.1l.5 .4l.5-.2l.5 .5l.5-.2l.6 .4l.5 0l.5 .3l.5 0l.5 .2l.5 0l.5 .2l.5-.3l.5 .5l.5-.6l.5 1.1l.5-1.1l.5 1.3l.5-1.6l.5 1.6l.5-1.5l.5 1.8l.5-1.7l.5 1.6l.5-1.7l.5 1.9l.5-1.5l.5 .8l.5-1.1l.5 1.8l.5-1.6l.5 1.3l.5-1.2l.5 1.2l.5-1.2l.5 1.1l.5-1l.4 1.6l.5-1.5l.5 1.2l.5-1.1l.5 1.3l.5-1.2l.5 1.3l.5-1.6l.5 1.3l.5-.9l.5 .7l.5-.8l.5 .9l.5-1l.5 .6l.5-.9l.5 1l.5-1.1l.5 .9l.4-1.2l.5 1.2l.5-1.2l.5 .6l.5-.7l.5 .8l.5-.7l.5 .7l.5-.8l.5 .8l.5-1.1l.5 .8l.5-.7l.5 .7l.5-1.1l.5 .2l.6-1.5l.5 0l.5-1.8l.6 1.1l.5-2.7l.5 2.6l.5-1.3l.5 1.7l.5-.7l.5 2.3l.5-1.8l.5 3l.5-1.7l.5 2.4l.5-2.2l.5 1.9l.5-1.1l.5 1.2l.5-1.5l.5 1.3l.5-1l.5 1l.5-1.3l.5 1.6l.5-1.5l.5 .9l.5-1.4l.5 .8l.5-1.2l.5 .5l.5-1.1l.5 .2l.5-.7l.5 .2l.5-.8l.6 .2l.5-.7l.5 .7l.5-.2l.4 .8l.5-.3l.5 .8l.5-.3l.5 .9l.5-.4l.5 1l.5-.5l.5 .4l.5-.7l.5 .3l.5-.6l.5 .4l.5-.9l.5 .1l.5-.8l.5 .2l.5-.7l.4 .2l.5-.7l.5 .3l.5-.6l.5 .3l.5-.3l.6 1.4l.5-.2l.5 1.6l.5-.2l.5 1.9l.5-.4l.5 1.7l.6-1.6l.5 1.4l.5-1.5l.5 1.3l.5-1.3l.5 .8l.5-1.8l.5 1.6l.5-1.4l.6 .6l.5-1.2l.5 .8l.5-.8l.5 .6l.5-1.3l.5 .9l.5-1l.5 .5l.5-.9l.6 .8l.5-.9l.4 .7l.5-.4l.5 .7l.5-.4l.5 .8l.5-.5l.4 .5l.5-.3l.5 .9l.5-.4l.5 .6l.4-.4l.5 .2l.5-.8l.5 0l.5-.9l.5 .3l.5-1.5l.5 .6l.5-1.4l.5 .7l.5-1.3l.5 .8l.5-1l.5 .7l.5-1.1l.5 .6l.5-1.5l.5 1.2l.5-1.7l.6 .5l.5-1.3l.5 1.1l.5-1.6l.5 1.4l.5-.9l.4 1.2l.5-.6l.5 1.7l.5-.8l.5 1.8l.4-.9l.5 1.6l.5-.6l.5 1.5l.5-.5l.5 1.3l.5-1.1l.5 1.3l.5-.8l.5 1l.5-.7l.5 1.4l.6-.9l.5 1.2l.5-.6l.5 .9l.5-.8l.5 1.6l.5-.6l.6 1l.5-.9l.5 1.3l.5-1.6l.5 1.5l.5-1.2l.5 1l.5-1l.5 .5l.5-1l.5 1.3l.4-1.2l.5 1.1l.5-1.4l.5 1.4l.5-1.6l.5 1.2l.5-1l.5 .4l.5-1l.5 1.4l.5-1.3l.5 1.2l.5-1.2l.5 .6l.5-.7l.5 .7l.5-.8l.5 1.3l.5-1.5l.5 1.7l.5-1.1l.5 1.1l.6-.8l.5 1.1l.5-1.1l.5 1.1l.5-.5l.5 1.8l.5-2.2l.6 2l.5-1.5l.5 1.4l.5-1.3l.5 2l.5-2.2l.5 1.9l.5-1.7l.5 1.7l.5-2.1l.5 1.7l.5-1.5l.5 1.1l.5-.9l.4 .9l.5-1.3l.5 1.2l.5-1.3l.5 .9l.5-1l.5 .9l.5-1.3l.5 1.1l.5-1.1l.5 .9l.5-.6l.5 .5l.5-.8l.5 .7l.5-.6l.5 .4l.5-.3l.5 .5l.5-.2l.6 .4l.5-.2l.5 .4l.5-.3l.5 .4l.5-.1l.6 .3l.5-.1l.5 .2l.5-.1l.5 .1l.5-.1l.5-.2l.6-.3l.5-.2l.5-.3l.5-.2l.5-.2l.5-.1l.5 .2l.5 .6l.5 .1l.5 .7l.5 0l.5 1.3l.5-.4l.5 1.7l.5-.8l.5 1.3l.5-1.2l.5 1.1l.5-1.2l.5 .6l.5-.9l.5 .8l.5-1.1l.5 .5l.5-.9l.5 .5l.5-.7l.5 .4l.5-.6l.5 .1l.5-.4l.5 .1l.5-.4l.5 .1l.5-.4l.5 0l.5-.2l.5 0l.5-.1l.5 .1l.5 0l.6 .2l.5 0l.5 .3l.5-.1l.5 .4l.5 0l.5 .3l.5-.1l.5 .5l.5-.2l.5 .5l.6-.2l.5 .7l.5-.5l.5 .7l.5-.2l.5 .5l.5-.4l.5 .7l.5-.3"/>
<path stroke="#00f" stroke-width="2.6" stroke-opacity="1" fill="none" d="M531.5 690L531.6 722"/>
<path stroke="#00f" stroke-width="2.6" stroke-opacity="0.5" fill="none" d="M531.6 722L531.7 741"/>
<path class="c" stroke="#f0f" d="M179.1 736l.4-3.6l.5 4.5l.5-2.6l.5 5l.4-4.9l.5 6l.5-4l.5 6l.5-5l.4 5.3l.5-2.9l.5 3.7l.5-2.1l.5 2.9l.5-3.7l.5 5l.5-3.6l.5 4.5l.5-5.7l.4 3.9l.5-8.6l.5 8.1l.4-9.5l.5 6.9l.5-7.1l.5 5.6l.4-7.3l.5 5.6l.5-7.5l.4 9.1l.5-8l.5 5.1l.4-6.8l.5 5l.5-10.8l.4 7.3l.5-7.5l.5 7.6l.4-7.5l.5 6.3l.5-4.9l.4 6.3l.5-6.7l.4 6.1l.5-3.1l.5 6.1l.4-4.2l.5 4.8l.5-5.7l.4 6.6l.5-4.4l.5 6.1l.5-4.3l.4 4.8l.5-5.2l.5 4.7l.5-3.8l.5 3.3l.5-5.2l.5 5.1l.5-4.8l.5 3.1l.5-2.6l.5 2.8l.5-3l.4 2.4l.5-1.5l.5 2.2l.5-1.6l.5 3.1l.4-2.4l.5 2.8l.5-2.7l.5 2.8l.5-3.2l.4 4.3l.5-3.4l.6 2.7l.5-2.7l.5 4.2l.5-6.4l.5 4.7l.5-4.1l.5 2.8l.5-4.2l.5 3.9l.5-4.3l.5 3.2l.5-4l.6 4.7l.5-3.8l.5 4l.5-5l.5 6.5l.5-5.9l.5 6.5l.6-6l.5 4.9l.5-4.1l.5 2.9l.5-3.7l.5 4.3l.6-5.9l.5 4.4l.5-5.1l.5 5.6l.5-3.7l.5 5.3l.5-3.3l.6 4.8l.5-2.9l.5 3.9l.5-2.4l.5 3.2l.5-2.1l.4 3.2l.5-3.1l.5 3.6l.5-4.1l.5 5.2l.5-4.5l.4 4.6l.5-3.9l.5 5.3l.5-4.5l.5 5l.5-4.5l.5 4l.5-4.2l.6 2.6l.5-3.8l.5 3.9l.5-4.6l.5 4.4l.5-4.8l.5 4.2l.5-4.6l.5 3.9l.5-4.8l.5 3.3l.5-4.2l.4 4.7l.5-5l.5 4.5l.6-5.9l.5 4.9l.5-4.2l.5 3.8l.5-3.6l.5 4.8l.5-6.5l.5 5.1l.5-5l.5 4.9l.5-4.1l.5 3.1l.5-4.9l.5 6.8l.5-4.9l.4 7l.5-5.2l.5 7.1l.4-7.5l.6 6.3l.5-4.7l.5 5.4l.5-3.8l.5 6.1l.5-2.9l.5 3.2l.6-2l.5 2.6l.4-3.8l.5 2.3l.5-4.8l.5 2.5l.5-5.6l.5 4.7l.5-4.3l.5 2.5l.5-4l.5 3.1l.5-2.6l.5 3.3l.5-3.4l.5 5.8l.5-2.8l.5 3.6l.5-2.7l.5 2.9l.5-3l.4 3.3l.5-2.3l.5 3.2l.4-2.6l.5 2.5l.5-1.6l.4 2.2l.6-2.5l.5 2.9l.5-5.4l.5 4.5l.5-6.2l.5 5.9l.6-6.4l.5 4l.5-6.1l.5 7l.5-7.5l.4 7.7l.5-7l.5 5.9l.5-4.9l.5 5.1l.5-6.5l.5 8l.5-7.3l.5 6.8l.5-5.5l.5 6.2l.6-7.1l.5 6.4l.5-4.1l.5 4.2l.5-3.7l.5 3.5l.5-4.2l.5 4.4l.5-4.1l.5 4.4l.5-4.7l.5 5.9l.4-4.7l.5 5.2l.5-5l.5 4.7l.5-4.8l.4 5.6l.5-3.5l.5 3l.5-2.7l.5 2.5l.5-2.7l.5 3.5l.5-2.2l.5 2.4l.5-3.1l.5 3.8l.5-2.1l.5 3.8l.6-3.6l.5 3.3l.5-2.8l.5 4.5l.5-5.9l.4 4l.5-2.7l.5 3.2l.5-4l.5 4.4l.4-3.7l.5 2.5l.5-3l.5 3.4l.5-3.6l.4 2.5l.5-2.3l.5 3.2l.5-1.7l.4 3.3l.5-3.9l.5 4.1l.4-2.1l.6 3.6l.5-4.9l.5 4l.5-4.4l.5 2.8l.5-4.4l.6 2.8l.5-4.4l.5 5.2l.5-4.1l.5 3.5l.5-4l.5 4.1l.5-3l.5 1.5l.5-2.4l.5 2.9l.5-2.6l.5 2.3l.6-2.5l.5 2.9l.5-2.3l.5 2.2l.4-2.7l.5 3l.5-1.9l.5 2.6l.5-2.1l.5 3.1l.5-3.7l.5 3.1l.5-2l.5 3l.5-3.6l.5 4.7l.5-3.6l.5 2.4l.5-5.1l.5 5.7l.5-6.4l.6 3.8l.5-3.6l.5 1.7l.5-4l.5 4.4l.5-3.6l.4 3.2l.5-3l.5 3.5l.5-2.7l.5 2.3l.5-1.6l.4 2.2l.5-2.2l.5 1.9l.5-1.3l.5 1.4l.4-1.8l.5 1.7l.5-1.4l.5 .9l.5-1.7l.4 1.6l.5-1.4l.5 1.6l.5-1.8l.5 1.2l.4-1.3l.6 1.3l.5-2.3l.5 2l.5-2.2l.5 2.3l.5-3.6l.5 3.8l.5-3.5l.5 2.5l.5-3l.5 2.6l.5-2.6l.5 2.5l.5-2l.5 2.2l.5-2.4l.5 2.5l.4-2.8l.5 3.8l.5-2.6l.5 2.7l.5-2.3l.5 3.7l.4-3.4l.5 2.7l.5-2.8l.5 3.7l.6-3.3l.5 3.3l.5-2.9l.5 3.3l.5-2.4l.5 3.2l.5-3.8l.5 2.6l.5-2l.5 2.6l.5-1.6l.5 1.7l.5-2.3l.5 1.6l.5-1.2l.6 1l.5-1.6l.5 1.2l.5-2l.5 .7l.5-1.5l.5 1l.5-2.1l.5 1l.5-1.8l.5 1.2l.5-2.3l.5 1.9l.5-2.1l.6 2.5l.5-2.6l.5 4l.5-2.9l.5 4l.5-3.5l.5 4.3l.5-4.1l.5 5.9l.5-5.3l.5 4.6l.5-3.9l.5 5.7l.5-7.1l.4 5.1l.5-4.7l.5 3.5l.5-3.4l.4 2.3l.5-2.8l.5 2l.5-1.9l.5 3.2l.5-3.5l.5 2.9l.5-3.8l.5 3.6l.5-3.8l.5 3.3l.5-3l.5 4.7l.5-3.7l.5 2.3l.5-3.8l.4 5.2l.5-4l.5 4.5l.4-1.4l.5 3.9l.5-2.6l.4 2.8l.5-2.4l.5 2.5l.5-2.7l.5 1.8l.5-1.5l.5 .8l.5-2l.5 2.7l.5-2.4l.5 1.3l.5-2l.5 1.5l.5-1.9l.5 1.6l.5-1.7l.5 .9l.5-1.7l.5 .9l.5-3.2l.5 1.3l.6-2.3l.5 1.2l.5-2.2l.5 2.2l.5-1.5l.5 3l.6-3.4l.5 3.5l.5-2.9l.5 4.7l.5-4.3l.5 2.8l.5-2.5l.4 2l.5-2.2l.5 2.2l.4-3.8l.5 2.9l.5-2.1l.5 2.4l.6-2.4l.5 2.1l.5-1.7l.5 3.2l.5-3.2l.5 2.8l.5-1.9l.6 3.4l.5-2.9l.5 2.9l.5-3.4l.5 3.7l.5-3.8l.6 3.6l.4-2.9l.5 2.8l.5-3.6l.5 3l.5-2.6l.5 2.2l.5-2.4l.5 2.5l.5-3.1l.5 2.3l.5-2.5l.5 1.7l.5-2l.5 1.6l.5-1.6l.5 1.5l.5-2.1l.5 1.7l.5-2.1l.6 2.1l.5-2.4l.5 1.4l.5-2.5l.5 2l.5-2.3l.5 2.4l.6-3l.5 2l.5-2.7l.5 1.7l.5-1.1l.5 2.1l.5-2l.6 2.9l.5-1.2l.5 2.2l.5-1.3l.5 2.1l.5-1.4l.5 1.5l.5-1.8l.5 1.9l.5-2.1l.5 2.1l.5-2.4l.5 2.1l.5-2.1l.5 1.8l.5-2l.5 2l.5-1.5l.5 1.8l.5-1.9l.5 1l.5-1.9l.4 2.2l.5-2.3l.5 2.6l.5-2.6l.5 2.2l.6-1.9l.5 2.3l.5-2.5l.5 1.9l.5-1.1l.5 2.2l.5-1.9l.5 1.9l.5-1.7l.5 1.7l.6-1.9l.5 2.5l.5-2.2l.5 2.3l.5-1.7l.5 1.4l.5-1.2l.5 1.6l.5-1.8l.6 1.9l.5-2.1l.5 1.7l.5-2.1l.5 .9l.5-2.1l.5 1l.6-1.8l.5 1l.5-.9l.5 1.2l.5-.5l.5 1.3l.5-.7l.6 1.2l.5-.2l.5 .9l.5-.6l.5 .7l.4-.5l.5 .6l.5-.7l.5 .8l.5-.4l.4 .6l.5-.4l.5 .6l.5-.6l.5 .6l.5-.8l.5 .5l.5-.8l.5 1.1l.5-1.4l.5 1.2l.5-1.6l.5 1.4l.5-1.7l.5 1.3l.5-2l.6 1.4l.5-1.2l.4 1.9l.5-2.3l.5 2.4l.4-1.9l.5 2.4l.5-2.1l.5 2.5l.5-2.1l.4 1.7l.5-2l.5 1.8l.5-2.5l.5 2l.5-2.9l.5 2.6l.5-1.8l.5 1.2l.5-1.5l.4 1.8l.5-1l.5 2.1l.5-1.7l.4 2.7l.5-2l.5 2.3l.5-3.1l.5 2.4l.5-2.8l.5 1.4l.5-1.7l.5 1.7l.5-1.7l.5 1l.4-2l.6 2l.5-2l.5 1.5l.5-2.3l.5 1.2l.5-2l.6 1.3l.5-1.4l.5 1.1l.5-1.8l.5 1l.4-1.4l.5 1l.5-1.6l.5 .8l.5-1.2l.5 .4l.5-.8l.5 .5l.5-1l.4 .3l.5-.8l.5 .4l.4-.8l.5 .3l.5-.9l.5 .1l.5-1.5l.4 .6l.5-2.3l.5 1.3l.5-1.7l.5 .9l.4-1.7l.5 .3l.5-.9l.5-.2l2.2-3.9l1.3-6l1.4-16.3l1.9-19.4l1.4-19.3l.6-30l1.3-75l.3-115l.5-100l.7-105l.4-70l.6-45l1.1-35.7l1.3 35.7l.7 45l.5 70l.3 105l.3 100l.5 115l.5 75l.6 30l1 19.3l1.9 19.4l1.8 16.3l2.1 7l2.8 6.6l3.3 4.5l4.1 3.7l.5 .1l.6 .6l.5-.1l.5 1.2l.6-.7l.5 1.2l.5-1l.5 1.5l.5-1.3l.4 2l.5-1.2l.5 1.4l.4-1.3l.5 2.3l.5-2.6l.5 2.6l.5-2.7l.5 2.4l.6-3.4l.5 2.4l.5-2.6l.5 1.4l.5-2.3l.5 3l.5-3l.5 2.7l.5-3.7l.5 3.8l.5-2.7l.6 3.1l.5-2.4l.5 3.4l.5-1.2l.5 1.9l.5-2l.5 3.5l.5-3.3l.6 2.8l.5-2.7l.5 1.9l.5-1.9l.5 1.7l.5-.9l.5 1.3l.5-1.2l.5 1.1l.5-1l.5 .7l.5-.6l.5 .7l.5-.8l.5 .9l.5-.7l.5 1l.5-1.6l.5 2.1l.5-1.8l.5 1.7l.5-1.8l.5 1.5l.5-1.9l.5 2.9l.4-2l.6 1.6l.5-2.2l.5 1.8l.5-2.1l.5 1.5l.5-1l.5 .9l.5-1.2l.5 1.4l.5-1.6l.5 1l.5-1.2l.5 .8l.5-.8l.5 .4l.5-.4l.5 .2l.5-.2l.5-.1l.5-.8l.5 .7l.4-2.2l.5 1.5l.5-2.2l.5 1.3l.5-3.2l.4 2.1l.5-2.5l.5 3.6l.5-5.6l.5 5.4l.5-3.1l.5 4l.5-2.7l.6 3.6l.5-2.1l.5 3.6l.5-1.4l.5 1.4l.5-2l.5 1.8l.5-2l.5 1.4l.5-1.3l.5 1l.5-1.3l.5 1l.5-1l.5 .9l.4-.7l.5 1l.5-.7l.5 1.5l.5-.8l.5 1.1l.5-.7l.5 .9l.5-.4l.5 .5l.5-.8l.4 .6l.5-1l.5 .8l.5-.9l.5 1l.5-1.2l.4 1l.5-1.2l.5 .9l.5-1.1l.5 .6l.5-1.9l.5-.3l.5-2.2l.6 .2l.5-2.2l.5 .7l.5-1.9l.5 1.2l.5-1.6l.5 1.2l.5-3.1l.5 2.6l.5-2.8l.5 2.7l.5-3.9l.4 4.3l.5-6.1l.6 4.8l.5-2.7l.5 4.1l.5-3.5l.5 3.2l.5-2.5l.5 2.7l.6-1.8l.5 1.8l.5-2.3l.4 1.4l.5-1.5l.5 .7l.5-1.6l.5 1.1l.5-1.3l.5 .7l.5-1.1l.5 1l.5-2.3l.5 2l.4-2.2l.5 1.9l.5-2l.5 1.7l.5-2.9l.4 3l.5-3.1l.5 2.4l.5-2.4l.5 2.5l.5-2.2l.5 2.5l.5-2l.5 2.3l.4-1.5l.5 2.6l.5-1.5l.5 2.2l.5-1.5l.5 1.7l.6-1.6l.5 2.1l.5-1.7l.5 2l.5-2l.5 2.1l.6-1.4l.5 1.5l.5-1.2l.5 1.7l.5-1.5l.5 1.8l.5-1.5l.6 1.9l.5-1.5l.5 1.5l.5-.8l.5 1.3l.5-1.8l.5 2l.5-1.4l.5 1.9l.6-1l.5 1.7l.5-1.6l.5 1.4l.5-.6l.5 1.4l.5-1.1l.5 1.4l.5-1.2l.5 1.5l.6-.8l.5 1l.5-.9l.5 1.6l.5-1.4l.5 1.7l.5-.6l.6 1.4l.5-.2l.5 1.4l.5-.8l.5 1.4l.5-.8l.5 1.3l.5-1.1l.6 1.5l.5-1.9l.5 2.1l.5-1.5l.5 1.3l.5-1.2l.5 1.6l.5-1.5l.5 2l.5-1.6l.6 1.9l.5-2.1l.5 2.7l.5-2.2l.5 1.9l.5-2l.5 2.1l.5-2.4l.5 2.9l.5-2.6l.5 2.5l.5-1.9l.5 2.3l.5-1.8l.5 2l.5-1.8l.5 3.2l.5-2.2l.5 2.6l.5-1.9l.5 2l.5-1.7l.4 1.8l.6-1.9l.5 1.1l.5-1.6l.5 .9l.5-1.6l.5 .5l.6-1.4l.5 1l.5-1l.5 1l.5-1l.4 1.2l.5-1.1l.5 1.6l.5-1.6l.5 1.5l.5-1.5l.5 1.9l.5-1.3l.5 1.2l.5-1.4l.5 1.8l.5-1.3l.5 1.2l.5-.8l.5 1.3l.5-1.1l.5 1.4l.5-1.9l.5 1.9l.4-1.2l.5 1.7l.5-2.1l.6 2.3l.5-1.6l.5 1.8l.5-1l.5 1.6l.5-1l.5 1.5l.6-.7l.5 .9l.4-1.2l.5 .9l.5-.9l.5 .9l.5-1.4l.5 1.4l.5-1.5l.5 1.4l.5-1.2l.5 .6l.5-.9l.5 1l.5-1.5l.5 1l.5-.8l.5 .8l.5-1.2l.5 1.3l.5-1.5l.4 1.5l.5-1.4l.5 .8l.5-.7l.5 .6l.5-1.1l.5 1.3l.5-1.3l.5 1.3l.5-.9l.5 1l.5-1.1l.5 1.2l.5-.9l.5 .7l.5-1.1l.5 1.3l.5-1.4l.5 1.2l.5-1l.5 1.1l.5-1.1l.5 .9l.5-1.2l.5 1.2l.5-1l.5 1l.5-1.1l.5 1l.5-.9l.5 1.3l.5-1.4l.5 1l.5-.9l.5 1.4l.5-1.3l.5 1l.5-1l.5 1.4l.5-1l.5 1.5l.5-1.2l.5 1.4l.6-1.1l.5 1.7l.5-1.4l.5 2l.5-1l.5 2l.5-2l.5 1.9l.5-1.9l.5 1.6l.5-1.5l.5 .6l.5-1.3l.5 .8l.5-.8l.5 .7l.5-1l.5 .7l.5-.7l.5 .7l.4-.6l.5 .6l.5-.7l.5 .7l.5-.5l.4 .5l.5-.6l.5 .4l.5-.4l.5 .6l.4-.7l.5 1l.5-.5l.5 .6l.5-.5l.5 .7l.4-.8l.5 1.2l.5-.7l.5 1.2l.5-1.1l.5 1l.5-1.4l.5 .4l.5-1.8l.5 .5l.6-1.5l.5 .7l.5-1.5l.5 1.5l.5-.7l.5 1.4l.5-1l.5 1.3l.5-.5l.5 1.7l.5-1.1l.5 1.6l.6-.4l.5 1.2l.5-.9l.5 1.5l.5-1.1l.5 .5l.5-1.3l.5 1l.5-1.5l.5 .7l.5-1.2l.5 1.3l.5-1.9l.5 1l.5-1.5l.5 .8l.5-1.5l.5 1.3l.5-1.7l.5 1l.5-1.1l.5 .8l.5-.8l.5 1.3l.5-.6l.5 1.4l.4-.7l.5 1.3l.5-.5l.5 1.6l.5-1l.5 1.6l.4-.6l.5 1.3l.5-1.2l.5 1.1l.5-1.1l.5 .9l.6-.8l.5 .8l.5-.8l.5 .5l.5-.9l.5 .9l.5-.7l.5 .6l.5-.5l.5 .4l.5-1.1l.5 .5l.4-1.1l.5 .6l.5-1.5l.5 .8l.5-1.7l.4 .7l.5-1.1l.5 .5l.5-1.2l.5 1.3l.5-1.1l.5 1.1l.5-.8l.5 1.1l.5-.9l.5 1.3l.5-.7l.5 .9l.5-1l.5 1.2l.5-.5l.5 .7l.5-.5l.5 1l.5-.8l.5 1l.5-.5l.5 .7l.5-.6l.5 .7l.5-.4l.5 .6l.6-.7l.5 .1l.5-.8l.5 .3l.6-1.1l.5 .5l.5-1.3l.6 1.2l.5-.4l.5 .9l.6-.4l.5 .8l.5 0l.5 .3l.5-.2l.6-.1l.5-.2l.5-.2l.5-.3l.5-.2l.5-.2l.5-.2l.5-.3l.5-.2l.5-.2l.5-.1l.5-.2l.5 .4l.5 .2l.5 .7l.5 .2l.5 .9l.5-.1l.5 1l.5-.3l.5 1.5l.5-.7l.5 .7l.5-1.4l.5 1l.5-1.3l.5 .2l.5-1.2l.5 .3l.5-.8l.6 .1l.5-.8l.5 0l.5-.4l.5-.1l.5 0l.5 .2l.5-.1l.5 .4l.5-.2l.4 .5l.5-.4l.5 .8l.5-.4l.5 .5l.5-.7l.5 1.3l.5-.9l.5 .7l.5-.3l.5 .7l.4-1.3l.5 .2l.5-.8l.5 .1l.4-.5l.5-.1l2.5-1.8l2-10.7l1.1-8.3l.6-8.2l.5-15l.6-20l.8-20l1.3-16.7l1.3 16.7l.9 20l1 20l1.2 15l.6 8l.8 8.5l1.3 6.6l4.1 4.1l.5-.1l.4 .4l.5-.2l.5 .8l.5-1.1l.4 1.5l.5-1.1l.5 1.8l.5-1.8l.5 1.6l.5-1.4l.5 .9l.5-1.2l.6 1.4l.5-2l.5 1.7l.5-1l.5 1.1l.5-1.7l.5 1.4l.5-1.1l.5 1.4l.4-.5l.5 1.2l.5-.3l.5 1.1l.5 0l.4 .7l.5 0l.5 .7l.5 .1l.5 .3l.5-.2l.4-.1l.5-.3l.5-.2l.5-.3l.5-.2l.4-.3l.5-.2l.5-.3l.5-.1l.5-.2l.4-.1l.5-.1l.5 .1l.5-.1l.5 .1l.5-.1l.5 .1l.5-.1l.5 .1l.5-.1l.5 .1l.5-.1l.5 .1l.5-.1l.5 .1l.5 0l.5 0l.5 0l.4 0l.5-.1l.5 .1l.5-.1l.5 .1l.5-.1l.5 .1l.5-.1l.5 .1l.5-.1l.5 .1l.5-.1l.5 .1l.5 0l.5 .1l.5 0l.5 .3l.6-.2l.5 .5l.5-.4l.5 .7l.5-.3l.5 .5l.5-.3l.6 1l.5-.8l.5 .9l.5-1.1l.5 1.6l.5-1.3l.5 .7l.5-.8l.5 1l.5-1.4l.5 1.2l.5-1l.5 .8l.5-.9l.5 .4l.5-.7l.5 .8l.5-.8l.4 .3l.5-.5l.5 .5l.5-.6l.5 .4l.5-.5l.5 .3l.5-.4l.5 .2l.5-.2l.5 .1l.5-.2l.5 .3l.5 0l.5 .4l.5-.1l.5 .6l.5-.2l.5 .7l.4-.3l.5 1.1l.5-.5l.5 1l.5-.8l.5 1.4l.5-.9l.5 1.3l.5-1.3l.5 .9l.5-.7l.5 .4l.5-.8l.5 .5l.6-.7l.5 .3l.5-.6l.5 .3l.5-.5l.5 .2l.5-.3l.5 0l.5-.3l.4 0l.5-.7l.5 .3l.5-.8l.4 .6l.5-.4l.5 .8l.5-.5l.5 1l.5-.4l.4 .9l.5-.6l.5 1l.5-.8l.5 1.2l.4-.8l.5 .6l.5-1.1l.5 .7l.5-.9l.4 .4l.5-.9l.5 .3l.5-.7l.5 .2l.4-.5l.5 0l.5-.3l.5 .2l.5 0l.5 .3l.5 0l.5 .4l.6 0l.5 .4l.5-.1l.5 .7l.5-.4l.5 .6l.5-.2l.5 .4l.5-.5l.5 .2l.4-1.1l.5 .4l.5-.9l.5 .5l.5-1.6l.5 .8l.4-1.5l.5 .9l.5-1.6l.5 .9l.5-.7l.5 1.8l.5-1.3l.5 2.2l.5-1.1l.6 1.7l.5-1.1l.5 2.1l.5-1.9l.5 1.1l.5-1.4l.5 1l.5-1.3l.5 1l.5-1l.6 .3l.5-.7l.5 .4l.5-.5l.5 0l.5-.2l.5 .2l.5-.1l.4 .5l.5-.1l.5 .8l.5-.7l.5 1.1l.4-.9l.5 1.4l.5-1.1l.5 1.7l.5-1.2l.4 1.5l.5-2.3l.5 .9l.4-1.9l.5 .5l.5-1.3l.5 .9l.5-1l.5 1.1l.5-.2l.5 1.1l.5-.3l.6 .7l.5 .1l.5 .3l.5-.2l.4-.1l.5-.4l.5-.1l.5-.5l.5 0l.4-.7l.5 .2l.5-.6l.5 .1l.5-.8l.5 .6l.4-.6l.5 1l.5-.5l.5 1l.5-.4l.5 1.1l.5-.3l.5 .7l.5-.4l.5 .9l.5-.6l.5 .5l.4-.8l.5 .3l.5-.6l.5 .6l.5-.6l.4 .5l.5-.5l.5 .4l.5-.9l.5 .8l.5-1l.5 .4l.5-1.2l.5-.1l.5-1l.6 .3l.5-1.7l.5 1.1l.5-.9l.5 1.2l.5-.8l.6 1.6l.5-.2l.5 1.3l.5-.9l.5 1.8l.5-1.4l.5 .9l.4-1.5l.5 1.2l.5-1.4l.4 1.3l.5-1.8l.5 1l.4-.5l.5 .1l1.1-2.3l.4-8.2l.5-8.3l.7-8.2l.7-10l1-9l1.4-6l1.5 6l1.1 9l.9 10l1.3 8.2l1.2 8.3l1.7 8.2l4.1 4.2l.5 0l.5 0l.5-.1l.5 .2l.6-.3l.5 .5l.5-.4l.5 .5l.5-.7l.5 .5l.5-.5l.6 .5l.5-.4l.5 .5l.5-.6l.5 .6l.5-.6l.5 .4l.5-.4l.5 .4l.6-.5l.5 .2l.5-.2l.5 .2l.5-.3l.5 .2l.5-.2l.5 .1l.5-.1l.5 .3l.5 .2l.5 .4l.5 .4l.5 .4l.5 .4l.5 .4l.5 .3l.5 .4l.5 .1l.5-.1l.5-.6l.5-.1l.5-.7l.5-.1l.5-1l.6 .3l.5-1l.5 .8l.5-.1l.5 1l.5-.4l.6 1l.5-.3l.5 1.2l.5-.4l.5 .3l.5-.6l.5 .7l.5-.6l.5 .5l.5-.3l.6 .4l.5-.6l.5 .7l.5-.6l.5 .7l.5-.9l.5 .8l.5-.9l.5 .5l.5-.7l.5 .5l.5-.9l.5 .4l.5-1l.6 .4l.5-.9l.5 .5l.5-.7l.5 .4l.5-.8l.5 1.4l.5-.6l.5 2.8l.5-1.8l.5 2.4l.4-2.1l.5 2.9l.5-2.5l.5 1.8l.5-1.5l.5 1l.4-.8l.5 1l.5-.9l.5 .5l.5-.5l.4 .2l.5-.2l.6 .1l.5-.3l.5 .2l.5-.5l.5 .2l.5-.4l.5 .1l.5-.4l.5 .3l.5-.6l.5 .6l.5-.7l.5 .7l.5-.6l.5 .7l.5-.5l.5 .5l.5-.3l.5 .3l.5-.3l.5 .6l.5-.3l.5 .4l.5-.3l.5 .4l.5-.2l.5 .3l.4-.1l.5 .1l.5 0l.5 .1l.5 0l.5 0l.5-.2l.5 .1l.6-.3l.5 .1l.5-.4l.5 .2l.5-.4l.5 .1l.5-.3l.5 .3l.5-.7l.5 .6l.5-.9l.5 .7l.6-.9l.5 .7l.5-.8l.5 .6l.5-1.5l.5 1.2l.5-.6"/>
<path stroke="#f0f" stroke-width="2.6" stroke-opacity="1" fill="none" d="M531.6 250L531.8 500"/>
<path stroke="#f0f" stroke-width="2.6" stroke-opacity="0.45" fill="none" d="M531.8 500L531.9 600"/>
<path stroke="#f0f" stroke-width="2.6" stroke-opacity="1" fill="none" d="M857.4 655L857.4 706"/>
<path stroke="#f0f" stroke-width="2.6" stroke-opacity="0.4" fill="none" d="M857.5 706L857.6 730"/>
<path stroke="#f0f" stroke-width="2.6" stroke-opacity="1" fill="none" d="M1025.4 698L1025.5 722"/>
</g>
<g clip-path="url(#cr)">
<path class="c" stroke="#000" d="M1383.6 813.5l.6-.3l.6 .3l.6-.4l.6 .4l.6-.2l.6 .3l.7-.3l.6 .4l.6-.3l.6 .2l.6-.2l.6 .4l.6-.3l.6 .3l.6-.3l.6 .4l.6-.3l.6 .4l.6-.3l.6 .3l.7-.3l.6 .4l.6-.5l.6 .6l.6-.4l.6 .4l.6-.3l.6 .3l.6-.4l.6 .4l.6-.4l.6 .2l.6-.4l.6 .4l.6-.4l.7 .4l.6-.4l.6 .2l.6-.4l.6 .4l.6-.4l.6 .3l.6-.3l.6 .3l.6-.5l.6 .3l.6-.3l.6 .3l.6-.4l.6 .4l.6-.4l.7 .3l.6-.3l.6 .1l.6-.2l.6 .2l.6-.4l.6 .4l.6-.3l.6 .2l.6-.3l.6 .4l.6-.4l.6 .5l.6-.4l.6 .3l.6-.3l.6 .4l.6-.3l.6 .3l.6-.3l.6 .3l.6-.4l.6 .4l.6-.3l.6 .3l.6-.3l.6 .4l.6-.3l.6 .3l.6-.4l.6 .5l.6-.4l.6 .3l.6-.3l.6 .3l.6-.3l.6 .5l.6-.5l.6 .5l.6-.4l.6 .4l.6-.4l.6 .3l.6-.3l.6 .4l.6-.4l.6 .4l.6-.3l.6 .4l.6-.3l.6 .3l.6-.3l.6 .3l.6-.2l.6 .2l.6-.3l.6 .4l.6-.4l.6 .3l.6-.2l.6 .2l.6-.2l.6 .3l.6-.3l.6 .3l.6-.3l.6 .3l.6-.4l.6 .4l.6-.3l.6 .3l.6-.3l.6 .3l.6-.4l.6 .5l.6-.4l.6 .3l.6-.3l.6 .3l.7-.4l.6 .5l.6-.5l.6 .5l.6-.4l.6 .4l.6-.4l.6 .3l.6-.2l.6 .4l.6-.5l.6 .4l.6-.4l.6 .4l.6-.4l.6 .4l.6-.4l.6 .5l.6-.4l.6 .3l.6-.3l.6 .3l.6-.4l.6 .4l.6-.3l.6 .3l.6-.3l.6 .4l.6-.4l.6 .4l.6-.4l.6 .5l.6-.4l.6 .3l.6-.3l.6 .4l.6-.6l.6 .4l.6-.2l.6 .3l.6-.3l.6 .4l.7-.5l.6 .4l.6-.4l.6 .4l.6-.3l.6 .3l.6-.2l.6 .2l.6-.2l.6 .4l.6-.5l.6 .3l.6-.3l.6 .4l.6-.5l.6 .4l.6-.2l.6 .3l.6-.4l.6 .4l.6-.4l.6 .3l.6-.3l.6 .4l.6-.3l.6 .2l.6-.2l.6 .2l.6-.3l.6 .5l.6-.5l.6 .3l.6-.3l.6 .3l.6-.3l.6 .3l.6-.3l.6 .2l.6-.3l.6 .4l.6-.3l.6 .3l.6-.3l.6 .2l.6-.4l.6 .5l.6-.3l.6 .2l.6-.4l.6 .4l.6-.3l.6 .4l.6-.4l.6 .3l.6-.4l.6 .4l.6-.4l.6 .3l.6-.3l.6 .3l.6-.3l.6 .3l.6-.3l.6 .4l.6-.4l.6 .3l.6-.4l.6 .4l.6-.4l.6 .4l.6-.4l.6 .3l.6-.3l.6 .5l.6-.6l.6 .5l.6-.4l.6 .3l.6-.3l.6 .3l.6-.3l.6 .3l.6-.3l.6 .3l.6-.4l.6 .5l.6-.6l.6 .4l.6-.3l.6 .3l.6-.3l.6 .3l.6-.3l.6 .3l.6-.4l.6 .4l.6-.3l.6 .2l.6-.3l.6 .4l.6-.4l.6 .4l.6-.4l.6 .3l.6-.2l.6 .2l.6-.3l.6 .3l.6-.3l.6 .4l.6-.4l.6 .3l.6-.3l.6 .2l.6-.2l.6 .2l.6-.3l.6 .4l.6-.3l.6 .3l.6-.4l.6 .4l.6-.4l.6 .4l.6-.4l.6 .4l.6-.3l.6 .2l.6-.3l.6 .4l.6-.2l.6 .2l.6-.3l.6 .3l.6-.3l.6 .4l.6-.4l.6 .3l.6-.4l.6 .4l.6-.4l.6 .5l.6-.4l.6 .3l.6-.3l.6 .4l.6-.4l.6 .5l.6-.4l.6 .3l.6-.3l.6 .2l.6-.1l.6 .2l.6-.4l.6 .4l.6-.4l.6 .5l.6-.5l.6 .5l.6-.3l.6 .4l.6-.5l.6 .4l.6-.4l.6 .5l.6-.5l.6 .5l.6-.5l.6 .5l.6-.4l.6 .3l.6-.4l.6 .4l.6-.3l.6 .5l.6-.4l.6 .2l.6-.2l.6 .2l.6-.3l.6 .3l.6-.2l.6 .2l.6-.2l.6 .4l.6-.5l.6 .3l.6-.2l.6 .4l.6-.3l.6 .3l.6-.4l.6 .4l.6-.3l.6 .3l.6-.3l.6 .3l.6-.4l.6 .4l.6-.4l.6 .3l.6-.3l.6 .5l.6-.4l.6 .3l.6-.3l.6 .2l.6-.1l.6 .3l.6-.4l.6 .3l.6-.3l.6 .3l.6-.3l.6 .4l.6-.3l.6 .2l.6-.3l.6 .4l.6-.3l.6 .4l.6-.4l.6 .3l.6-.4l.6 .3l.6-.3l.6 .4l.6-.3l.6 .3l.6-.3l.6 .3l.6-.4l.6 .3l.6-.2l.6 .2l.6-.2l.6 .3l.6-.4l.6 .4l.6-.3l.6 .3l.6-.3l.6 .4l.6-.3l.6 .2l.6-.3l.6 .4l.6-.4l.6 .4l.6-.3l.6 .4l.6-.4l.6 .3l.6-.3l.6 .3l.6-.4l.6 .4l.6-.3l.6 .2l.6-.3l.6 .4l.6-.3l.6 .4l.6-.4l.6 .4l.6-.4l.6 .3l.6-.3l.6 .3l.6-.2l.6 .2l.6-.2l.6 .4l.6-.5l.6 .4l.6-.4l.6 .4l.6-.4l.6 .4l.6-.2l.6 .2l.6-.3l.6 .3l.6-.4l.6 .4l.6-.3l.6 .3l.6-.3l.6 .3l.6-.3l.6 .4l.6-.3l.6 .3l.6-.4l.6 .3l.6-.3l.6 .3l.6-.2l.6 .4l.6-.4l.6 .2l.6-.3l.6 .4l.6-.3l.6 .3l.6-.3l.6 .4l.6-.4l.6 .4l.6-.4l.6 .4l.6-.4l.6 .3l.6-.3l.6 .4l.6-.4l.6 .4l.6-.4l.6 .4l.6-.4l.6 .4l.6-.4l.6 .3l.6-.3l.6 .3l.6-.4l.6 .4l.6-.6l.6 .4l.6-.4l.6 .4l.6-.4l.6 .3l.6-.4l.6 .3l.6-.3l.6 .2l.6-.4l.6 .3l.6-.4l.7 .3l.6-.3l.6 .4l.6-.5l.6 .4l.6-.4l.6 .3l.6-.4l.6 .3l.6-.5l.6 .3l.6-.4l.6 .4l.6-.3l.6 .3l.6-.4l.6 .3l.6-.4l.6 .3l.6-.4l.6 .3l.6-.3l.6 .4l.6-.4l.6 .2l.6-.4l.6 .3l.6-.4l.6 .2l.6-.4l.6 .3l.6-.4l.6 .2l.6-.4l.7 .2l.6-.4l.6 .2l.6-.4l.6 .3l.6-.4l.6 .3l.6-.5l.6 .3l.6-.5l.6 .4l.6-.4l.6 .2l.7-.5l.7-.2l.7-.4l3-2.8l2.5-8.8l.9-12.6l1.3-17.8l1-20l1.2-14.9l1.2 14.9l1.4 20l1.3 17.8l.7 12.6l1.7 8.8l2.3 3.3l.7 .4l.7 .3l.7 .7l.6-.3l.6 .3l.6-.2l.6 .4l.6-.2l.6 .5l.6-.3l.6 .3l.6-.1l.6 .5l.7-.2l.6 .4l.6-.2l.6 .4l.6-.3l.6 .5l.6-.3l.6 .5l.6-.3l.6 .4l.6-.2l.6 .2l.6-.3l.6 .4l.6-.4l.6 .3l.6-.2l.6 .3l.6-.3l.6 .2l.6-.2l.6 .3l.6-.2l.6 .2l.6-.2l.6 .3l.6-.4l.6 .3l.6-.2l.6 .3l.6-.2l.6 .2l.6-.2l.6 .3l.6-.3l.6 .3l.6-.2l.6 .2l.6-.2l.6 .2l.6-.3l.6 .5l.6-.5l.6 .4l.6-.2l.6 .2l.6-.2l.6 .3l.6-.3l.6 .3l.6-.4l.6 .4l.6-.3l.6 .4l.6-.4l.6 .3l.6-.1l.6 .1l.6-.3l.6 .3l.6-.2l.6 .4l.6-.3l.6 .2l.6-.3l.6 .4l.6-.4l.6 .4l.6-.3l.6 .2l.6-.2l.6 .2l.6-.3l.6 .3l.6-.3l.6 .3l.6-.3l.5 .3l.6-.3l.6 .2l.6-.2l.6 .2l.6-.2l.6 .2l.6-.3l.6 .2l.6-.1l.6 .2l.6-.3l.6 .4l.6-.4l.6 .3l.6-.4l.6 .4l.6-.4l.5 .4l.6-.3l.6 .2l.6-.2l.6 .2l.6-.3l.6 .3l.6-.3l.6 .2l.6-.2l.6 .3l.6-.4l.6 .2l.6-.2l.6 .3l.6-.3l.6 .4l.6-.4l.5 .3l.6-.4l.6 .4l.6-.3l.6 .2l.6-.2l.6 .3l.6-.3l.6 .2l.6-.3l.6 .2l.6-.2l.6 .1l.6-.2l.6 .1l.6-.2l.6 .1l.6-.3l.6 .3l.7-.5l.6 .3l.6-.5l.6 .3l.6-.4l.6 .2l.6-.4l.6 .2l.6-.4l.6 .2l.6-.3l.6 .1l.6-.4l.6 .2l.6-.4l.6 .2l.6-.4l.6 .4l.6-.5l.6 .3l.7-.5l.6 .3l.6-.4l.6 .3l.6-.4l.6 .2l.6-.3l.6 .2l.6-.4l.6 .3l.6-.4l.6 .3l.6-.2l.6 .4l.6-.3l.6 .4l.6-.3l.6 .4l.6-.3l.6 .4l.6-.2l.6 .3l.6-.2l.6 .3l.6-.2l.6 .5l.6-.3l.6 .4l.6-.2l.6 .3l.6-.2l.6 .4l.6-.2l.6 .3l.6-.2l.6 .3l.6-.3l.6 .4l.6-.3l.6 .4l.6-.2l.6 .2l.6-.2l.6 .2l.6-.2l.6 .3l.6-.2l.6 .4l.6-.4l.6 .3l.5-.2l.6 .4l.6-.3l.6 .4l.6-.4l.6 .4l.6-.3l.6 .4l.6-.2l.6 .2l.6-.2l.6 .4l.6-.3l.6 .3l.6-.3l.6 .4l.6-.2l.6 .2l.6-.1l.5 .2l.6-.1l.6 .1l.6-.2l.6 .4l.6-.3l.6 .3l.6-.2l.6 .3l.6-.3l.6 .2l.6-.2l.6 .3l.6-.4l.6 .3l.6-.3l.6 .3l.6-.3l.6 .4l.6-.3l.6 .3l.6-.3l.6 .3l.6-.3l.6 .2l.6-.3l.6 .4l.6-.4l.6 .4l.6-.3l.6 .2l.6-.3l.6 .4l.6-.4l.6 .4l.6-.3l.6 .2l.6-.2l.6 .2l.6-.3l.6 .3l.6-.2l.6 .2l.6-.3l.6 .4l.6-.3l.6 .3l.6-.4l.6 .4l.6-.4l.6 .4l.6-.3l.6 .3l.6-.3l.6 .3l.6-.3l.6 .2l.6-.2l.6 .3l.6-.4l.6 .4l.6-.3l.6 .3l.6-.4l.6 .4l.6-.3l.6 .3l.6-.3l.6 .2l.6-.3l.6 .4l.6-.3l.6 .2l.6-.2l.6 .3l.6-.3l.6 .2l.6-.2l.6 .3l.6-.4l.6 .3l.6-.3l.6 .3l.6-.2l.6 .2l.6-.2l.6 .2l.6-.2l.6 .3l.6-.4l.6 .4l.6-.3l.6 .3l.6-.3l.6 .2l.6-.2l.6 .2l.6-.3l.6 .4l.6-.3l.6 .2l.6-.2l.6 .2l.6-.3l.6 .4l.6-.4l.6 .4l.6-.3l.6 .2l.6-.2l.6 .2l.6-.3l.6 .3l.6-.3l.6 .4l.6-.3l.6 .2l.6-.3l.6 .4l.6-.3l.6 .2l.6-.3l.6 .3l.6-.2l.6 .2l.6-.2l.6 .2l.6-.2l.6 .3l.6-.4l.6 .3l.6-.3l.6 .3l.6-.2l.6 .2l.6-.2l.7 .3l.6-.3l.6 .2l.6-.3l.6 .4l.6-.3l.6 .3l.6-.4l.6 .3l.6-.3l.6 .4l.6-.4l.6 .4l.6-.4l.6 .4l.6-.4l.6 .3l.6-.3l.6 .3l.6-.2l.6 .3l.6-.3l.6 .2l.6-.2l.6 .2l.6-.2l.6 .2l.6-.3l.6 .4l.6-.3l.6 .3l.6-.4l.6 .3l.6-.3l.6 .3l.6-.2l.6 .2l.6-.2l.6 .2l.6-.3l.6 .3l.6-.3l.6 .3l.6-.2l.6 .2l.6-.3l.6 .4l.6-.4l.6 .4l.6-.3l.6 .2l.6-.2l.6 .3l.6-.3l.6 .3l.6-.4l.6 .3l.6-.2l.6 .2l.6-.3l.6 .4l.6-.4l.6 .3l.6-.3l.6 .3l.6-.2l.6 .3l.6-.4l.6 .4l.6-.3l.6 .3l.6-.3l.6 .3l.6-.3l.6 .2l.6-.2l.6 .2l.6-.2l.6 .3l.6-.4l.6 .3l.6-.3l.6 .3l.6-.3l.6 .3l.6-.3l.6 .4l.6-.3l.6 .2l.6-.3l.6 .3l.6-.3l.6 .3l.6-.2l.6 .2l.6-.2l.6 .2l.6-.2l.6 .3l.6-.4l.6 .3l.6-.2l.6 .2l.6-.2l.6 .2l.6-.2l.6 .3l.6-.3l.6 .2l.6-.3l.6 .4l.6-.3l.6 .3l.6-.4l.6 .4l.6-.3l.6 .2l.6-.3l.6 .3l.6-.2l.6 .2l.6-.3l.6 .4l.6-.4l.6 .4l.6-.4l.6 .4l.6-.3l.6 .2l.6-.3l.6 .2l.6-.4l.7 .3l.6-.4l.6 .1l.6-.3l.6 .3l.6-.4l.6 0l.5-.3l.6-.1l3.6-4.2l1.8-6.9l1.4-2.8l1.4 2.8l1.8 6.9l4.2 4.5l.7 .1l.6 .3l.7 0l.6 .3l.6-.2l.6 .2l.6-.2l.6 .3l.6-.2l.6 .3l.6-.1l.6 .1l.6-.2l.6 .3l.6-.2l.6 .2l.6-.2l.6 .3l.6-.3l.6 .2l.6-.2l.6 .3l.6-.3l.6 .2l.6-.2l.6 .2l.6-.2l.6 .2l.6-.3l.6 .3l.6-.2l.6 .2l.6-.2l.6 .2l.6-.2l.6 .2l.6-.3l.6 .3l.6-.2l.6 .2l.6-.2l.6 .2l.6-.2l.6 .2l.6-.2l.6 .2l.6-.2l.6 .2l.6-.2l.6 .2l.6-.2l.6 .2l.6-.2l.6 .2l.6-.2l.6 .2l.6-.3l.6 .3l.6-.2l.6 .2l.6-.2l.6 .2l.6-.2l.6 .2l.6-.2l.6 .2l.6-.2l.5 .3l.6-.4l.6 .4l.6-.3l.6 .2l.6-.2l.6 .2l.6-.3l.6 .3l.6-.3l.6 .3l.6-.2l.6 .2l.6-.2l.6 .2l.6-.2l.6 .2l.6-.2l.6 .2l.6-.2l.6 .2l.6-.2l.6 .2l.6-.2l.6 .2l.6-.2l.6 .2l.6-.2l.6 .3l.6-.3l.6 .2l.6-.2l.6 .3l.6-.4l.6 .3l.6-.2l.6 .2l.6-.3l.6 .3l.6-.2l.6 .2l.6-.3l.6 .3l.6-.3l.6 .3l.6-.3l.6 .3l.6-.2l.6 .2l.6-.2l.6 .2l.6-.2l.6 .2l.6-.3l.6 .3l.6-.2l.6 .3l.6-.3l.6 .2l.6-.2l.6 .2l.6-.2l.6 .2l.6-.2l.6 .2l.6-.2l.6 .2l.6-.3l.6 .3l.6-.2l.6 .2l.6-.2l.6 .2l.6-.2l.6 .3l.6-.3l.6 .2l.6-.2l.6 .2l.6-.2l.6 .2l.6-.2l.6 .2l.6-.2l.6 .2l.6-.2l.6 .2l.6-.2l.6 .3l.6-.4l.6 .3l.6-.2l.6 .2l.6-.2l.6 .2l.6-.3l.6 .3l.6-.2l.6 .2l.6-.2l.6 .2l.6-.2l.6 .2l.6-.2l.6 .3l.6-.3l.6 .2l.6-.2l.5 .2l.6-.2l.6 .2l.6-.2l.6 .2l.6-.2l.6 .2l.6-.2l.6 .2l.6-.2l.6 .3l.6-.3l.6 .2l.6-.2l.6 .2l.6-.2l.6 .2l.6-.2l.6 .2l.6-.2l.6 .1l.6-.1l.6 .2l.6-.2l.6 .2l.6-.2l.6 .2l.6-.2l.6 .2l.6-.2l.6 .2l.6-.2l.6 .3l.6-.3l.6 .2l.6-.2l.6 .3l.6-.3l.6 .2l.6-.2l.6 .2l.6-.3l.6 .3l.6-.2l.6 .3l.6-.3l.6 .2l.6-.3l.6 .3l.6-.2l.6 .3l.6-.3l.6 .2l.6-.2l.6 .2l.6-.2l.6 .2l.6-.3l.6 .2l.6-.3l.6 .2l.6-.3l.6 .2l.6-.3l.6 .2l.6-.2l.6 .1l.6-.3l.6 .3l.6-.3l.7 0l.7-.4l.7-.1l5.4-2.1l2.2-2.5l1.6-.7l1.7 .7l2.5 2.5l5.1 2.4l.6 .1l.6 .2l.6 0l.6 .4l.6-.3l.6 .3l.6-.3l.7 .3l.6-.2l.6 .3l.6-.2l.6 .3l.6-.3l.7 .3l.6-.2l.6 .3l.6-.2l.6 .2l.6-.3l.6 .3l.6-.2l.6 .2l.6-.2l.6 .3l.6-.4l.6 .4l.6-.3l.6 .2l.6-.3l.6 .3l.6-.3l.6 .3l.6-.2l.6 .2l.6-.2l.6 .2l.6-.2l.6 .2l.6-.2l.6 .2l.6-.2l.6 .2l.6-.2l.6 .2l.6-.2l.6 .2l.6-.2l.6 .2l.6-.2l.6 .2l.6-.3l.6 .3l.6-.3l.6 .3l.6-.3l.6 .3l.6-.2l.6 .3l.6-.3l.6 .2l.6-.2l.6 .2l.6-.2l.6 .2l.6-.2l.6 .2l.6-.2l.6 .3l.6-.3l.6 .3l.6-.3l.6 .2l.6-.2l.6 .2l.5-.2l.6 .3l.6-.3l.6 .2l.6-.2l.6 .2l.6-.2l.6 .2l.6-.2l.6 .3l.6-.3l.6 .2l.6-.2l.6 .2l.6-.2l.6 .2l.6-.2l.6 .2l.6-.2l.6 .3l.6-.3l.6 .2l.6-.3l.6 .4l.6-.3l.6 .2l.6-.3l.6 .2l.6-.2l.6 .3l.6-.2l.6 .2l.6-.2l.6 .2l.6-.2l.6 .2l.6-.2l.6 .2l.6-.2l.6 .2l.6-.2l.6 .2l.6-.2l.6 .3l.6-.3l.6 .2l.6-.2l.6 .3l.6-.3l.6 .2l.6-.3l.6 .3l.6-.3l.6 .3l.6-.2l.6 .2l.6-.1"/>
<path stroke="#000" stroke-width="2.6" stroke-opacity="1" fill="none" d="M1732.4 740L1732.6 792"/>
<path stroke="#000" stroke-width="2.6" stroke-opacity="1" fill="none" d="M2054.6 803L2054.6 811"/>
<path class="c" stroke="#f00" d="M1383.6 727.9l.6-.5l.6 .3l.6-.4l.6 .6l.6-.6l.6 .7l.6-.8l.6 .7l.6-.6l.6 .6l.6-.5l.6 .4l.6-.5l.6 .6l.6-.6l.6 .5l.6-.6l.6 .7l.6-.5l.6 .5l.6-.6l.6 .6l.6-.7l.6 .7l.6-.6l.6 .6l.6-.6l.6 .6l.6-.5l.6 .5l.6-.6l.6 .6l.6-.6l.6 .6l.6-.6l.6 .5l.6-.5l.6 .5l.6-.6l.6 .7l.6-.7l.6 .7l.6-.6l.6 .7l.6-.7l.6 .5l.6-.5l.5 .5l.6-.5l.6 .5l.6-.4l.6 .2l.6-.3l.6 .5l.6-.6l.6 .5l.6-.7l.6 .8l.6-.6l.6 .6l.6-.8l.6 .6l.6-.3l.6 .3l.6-.5l.6 .4l.6-.6l.6 .8l.6-.6l.6 .4l.6-.6l.6 .6l.5-.6l.6 .8l.6-.7l.6 .5l.6-.7l.6 .6l.6-.4l.6 .4l.6-.6l.6 .8l.6-.6l.6 .5l.6-.7l.6 .8l.6-.8l.6 .6l.6-.7l.6 .8l.6-.6l.6 .7l.6-.8l.6 .4l.6-.2l.6 .3l.6-.4l.6 .6l.6-.8l.5 .9l.6-.8l.6 .6l.6-.6l.6 .6l.6-.6l.6 .6l.6-.5l.6 .4l.6-.6l.6 .6l.6-.4l.6 .3l.6-.5l.6 .5l.6-.4l.6 .5l.6-.4l.6 .5l.6-.6l.6 .6l.6-.4l.6 .6l.6-.6l.7 .6l.6-.7l.6 .9l.6-.6l.6 .4l.6-.4l.6 .6l.6-.7l.6 .7l.6-.5l.6 .5l.6-.5l.6 .9l.6-.8l.6 .8l.6-.7l.6 .7l.6-.5l.6 .4l.6-.5l.6 .7l.6-.6l.6 .5l.7-.5l.6 .6l.6-.5l.6 .7l.6-.5l.6 .6l.6-.6l.6 .7l.6-.6l.6 .6l.6-.4l.6 .5l.6-.5l.6 .7l.6-.7l.6 .6l.6-.5l.6 .6l.6-.5l.6 .7l.6-.7l.6 .6l.6-.5l.6 .5l.7-.5l.6 .8l.6-.6l.6 .5l.6-.6l.6 .8l.6-.7l.6 .7l.6-.5l.6 .5l.6-.7l.6 .7l.6-.7l.6 .7l.6-.7l.6 .5l.6-.4l.6 .5l.6-.5l.6 .5l.6-.7l.6 .6l.6-.5l.6 .5l.6-.7l.6 .7l.6-.6l.6 .3l.6-.2l.6 .3l.6-.5l.6 .3l.6-.2l.6 .4l.6-.4l.6 .3l.6-.4l.6 .4l.6-.4l.6 .4l.6-.4l.6 .3l.6-.3l.6 .3l.6-.2l.6 .3l.6-.4l.6 .3l.6-.3l.6 .2l.6-.3l.6 .5l.6-.4l.6 .3l.6-.4l.6 .4l.6-.3l.6 .3l.6-.3l.6 .2l.6-.4l.6 .4l.6-.4l.6 .4l.6-.4l.6 .4l.6-.4l.6 .4l.6-.4l.6 .3l.6-.2l.6 .3l.6-.3l.6 .3l.6-.4l.6 .4l.6-.3l.6 .2l.6-.3l.6 .4l.6-.5l.6 .4l.6-.3l.6 .3l.6-.3l.6 .3l.6-.4l.6 .4l.6-.4l.6 .4l.6-.4l.6 .4l.6-.4l.6 .4l.6-.4l.6 .3l.6-.2l.6 .2l.6-.4l.6 .4l.6-.4l.6 .4l.6-.4l.6 .3l.6-.3l.6 .4l.6-.3l.6 .2l.6-.3l.6 .4l.6-.5l.6 .5l.6-.5l.6 .3l.6-.2l.6 .2l.6-.3l.6 .3l.6-.2l.6 .3l.6-.3l.6 .3l.6-.3l.6 .2l.6-.3l.6 .4l.6-.4l.6 .4l.6-.3l.6 .3l.6-.4l.6 .4l.6-.4l.6 .3l.6-.4l.6 .5l.6-.4l.6 .3l.6-.3l.6 .4l.6-.3l.6 .2l.6-.3l.6 .3l.5-.3l.6 .4l.6-.4l.6 .4l.6-.4l.6 .3l.6-.2l.6 .2l.6-.3l.6 .4l.6-.3l.6 .3l.6-.4l.6 .3l.6-.3l.6 .4l.6-.3l.6 .3l.6-.4l.6 .4l.6-.3l.6 .2l.6-.3l.6 .4l.6-.4l.6 .4l.6-.4l.6 .4l.6-.5l.6 .4l.6-.3l.6 .4l.6-.4l.6 .3l.6-.3l.6 .3l.6-.3l.6 .3l.6-.4l.6 .6l.6-.5l.5 .4l.6-.4l.6 .4l.6-.4l.6 .3l.6-.2l.6 .3l.6-.4l.6 .3l.6-.2l.6 .3l.6-.4l.6 .5l.6-.5l.6 .5l.6-.4l.6 .2l.6-.2l.6 .3l.6-.4l.6 .4l.6-.4l.6 .4l.6-.5l.6 .4l.7-.4l.6 .3l.6-.4l.6 .3l.6-.3l.6 .3l.6-.4l.6 .4l.6-.4l.7 .2l.6-.3l.6 .3l.6-.4l.6 .3l.6-.2l.6 .3l.6-.4l.6 .4l.5-.4l.6 .4l.6-.3l.6 .4l.6-.4l.6 .5l.6-.4l.6 .4l.5-.4l.6 .4l.6-.4l.6 .3l.6-.2l.6 .3l.6-.4l.6 .2l.7-.4l.6 .3l.6-.5l.6 .4l.6-.4l.6 .2l.7-.4l.6 .4l.6-.6l.6 .4l.6-.1l.6 .6l.6-.1l.6 .5l.6-.1l.6 .8l.6-.2l.6 .6l.6-.1l.6 .5l.6-.5l.6 0l.7-.6l.6 0l.6-.6l.7 0l.6-.6l.6 .2l.6-.3l.6 .5l.6-.4l.7 .6l.6-.1l.6 .4l.6-.1l.6 .4l.6-.2l.7 .5l.6-.1l.6 .3l.6-.3l.6 .4l.6-.3l.6 .2l.6-.4l.6 .4l.5-.5l.6 .3l.6-.3l.6 .3l.6-.4l.6 .3l.6-.4l.6 .3l.6-.4l.6 .4l.6-.5l.5 .5l.6-.5l.6 .2l.6-.3l.6 .4l.6-.4l.6 .3l.6-.4l.6 .3l.6-.3l.6 .3l.7-.3l.6 .4l.6-.4l.6 .4l.6-.5l.6 .5l.6-.3l.6 .2l.6-.2l.6 .3l.6-.4l.6 .4l.7-.4l.6 .3l.6-.3l.6 .4l.6-.4l.6 .3l.6-.3l.6 .1l.6-.3l.5 .1l.6-.5l.6 .1l.6-.4l.6 .2l.5-.5l.6 .1l.6-.4l.6 .2l.6-.2l.6 .4l.7-.3l.6 .5l.6-.3l.7 .4l.6-.2l.6 .5l.6-.3l.6 .4l.7-.2l.6 .4l.6-.4l.6 0l.6-.5l.7 .1l.6-.7l.6 0l.6-.6l.6-.1l.7-.5l.6 .1l.6-.4l.6 0l.6-.3l.6 .4l.6-.4l.6 .2l.6-.3l.6 .3l.6-.4l.6 .4l.5-.4l.6 .2l.6-.4l.6 .4l.6-.4l.6 .3l.6-.4l.6 .4l.6-.6l.6 .4l.6-.5l.7 .2l.6-.5l.6 .2l.6-.7l.7 .4l.6-.6l.5 .1l.6-.4l.6-.1l.5-.2l1.8-2.7l1.5-4.8l1.1-6.7l.7-8l.9-26l.7-47l1.2-70l1.5-32.7l1.3 32.7l1.1 70l1.1 47l.7 26l.7 8l1.4 6.7l1.5 3.8l1.8 2.8l3.3 2.4l.6 .1l.6 .3l.6 .2l.5 .5l.6 0l.6 .6l.6-.2l.6 .4l.6-.2l.6 .5l.6-.2l.7 .5l.6-.2l.6 .5l.6-.1l.6 .5l.6-.2l.6 .5l.6 0l.7 .4l.6-.3l.6 .6l.6-.3l.6 .4l.6-.3l.6 .3l.6-.3l.6 .4l.6-.4l.6 .3l.6-.4l.6 .5l.6-.5l.6 .3l.6-.1l.6 .2l.6-.3l.6 .4l.6-.4l.6 .3l.6-.4l.6 .4l.6-.3l.6 .3l.6-.4l.6 .4l.6-.3l.6 .2l.6-.3l.6 .4l.6-.5l.6 .4l.6-.2l.6 .3l.6-.4l.6 .3l.6-.3l.6 .3l.6-.3l.6 .4l.6-.5l.6 .4l.6-.3l.6 .4l.6-.5l.6 .5l.6-.5l.6 .3l.6-.2l.6 .2l.6-.2l.6 .4l.6-.4l.6 .2l.6-.2l.6 .4l.6-.4l.6 .3l.6-.3l.6 .2l.6-.3l.6 .4l.6-.4l.5 .5l.6-.4l.6 .3l.6-.4l.6 .3l.6-.3l.6 .3l.6-.3l.6 .4l.6-.3l.6 .2l.6-.3l.6 .5l.6-.4l.6 .2l.6-.2l.6 .3l.6-.3l.5 .2l.6-.2l.6 .2l.6-.3l.6 .5l.6-.4l.6 .3l.6-.2l.6 .3l.6-.4l.6 .4l.6-.4l.6 .4l.6-.5l.6 .4l.6-.2l.6 .2l.6-.3l.5 .3l.6-.2l.6 .3l.6-.4l.6 .4l.6-.4l.6 .3l.6-.3l.6 .3l.6-.2l.6 .3l.6-.5l.6 .4l.6-.4l.6 .3l.6-.4l.6 .3l.6-.4l.5 .2l.6-.6l.6 .4l.6-.5l.6 .2l.6-.3l.6 .2l.6-.4l.6 .3l.6-.5l.6 .4l.6-.5l.6 .2l.6-.4l.6 .3l.6-.5l.6 .2l.6-.3l.6 .3l.5-.5l.6 .3l.6-.4l.6 .3l.6-.4l.6 .3l.6-.4l.6 .2l.6-.4l.6 .4l.6-.4l.6 .5l.6-.3l.6 .3l.6-.4l.6 .5l.6-.3l.5 .4l.6-.3l.6 .4l.6-.4l.6 .5l.6-.3l.6 .3l.6-.2l.6 .4l.6-.2l.6 .3l.6-.3l.6 .4l.6-.3l.6 .5l.6-.3l.6 .2l.6-.2l.6 .5l.5-.4l.6 .5l.6-.4l.6 .4l.6-.3l.6 .4l.6-.2l.6 .2l.6-.3l.6 .3l.6-.3l.6 .5l.6-.4l.6 .3l.6-.1l.6 .2l.6-.2l.5 .3l.6-.3l.6 .3l.6-.3l.6 .4l.6-.3l.6 .4l.6-.3l.6 .4l.6-.4l.6 .4l.6-.3l.6 .5l.6-.4l.6 .3l.6-.3l.6 .5l.6-.5l.6 .5l.5-.4l.6 .4l.6-.3l.6 .4l.6-.3l.6 .4l.6-.4l.6 .3l.6-.3l.6 .4l.6-.4l.6 .4l.6-.4l.6 .3l.6-.3l.6 .3l.6-.3l.6 .5l.6-.4l.6 .2l.6-.3l.6 .4l.6-.5l.6 .5l.6-.3l.6 .2l.6-.4l.6 .5l.6-.3l.6 .3l.6-.4l.6 .4l.6-.3l.6 .3l.6-.3l.6 .3l.6-.3l.6 .3l.6-.4l.6 .4l.6-.3l.6 .3l.6-.3l.6 .4l.6-.3l.6 .2l.6-.3l.6 .3l.7-.2l.6 .3l.6-.5l.6 .5l.6-.4l.6 .2l.6-.3l.6 .4l.6-.4l.6 .5l.6-.5l.6 .4l.6-.3l.6 .3l.6-.4l.6 .4l.6-.3l.6 .3l.6-.4l.6 .5l.6-.4l.6 .3l.6-.4l.6 .5l.6-.4l.6 .3l.6-.4l.6 .4l.6-.3l.6 .4l.6-.3l.6 .2l.6-.3l.6 .5l.6-.5l.6 .3l.6-.3l.6 .4l.6-.4l.6 .4l.6-.3l.6 .2l.6-.2l.6 .3l.6-.3l.6 .2l.6-.3l.6 .4l.6-.3l.6 .2l.6-.2l.6 .3l.6-.4l.6 .3l.6-.2l.6 .3l.6-.3l.6 .4l.6-.4l.6 .3l.6-.3l.6 .3l.6-.2l.6 .2l.6-.2l.6 .2l.6-.2l.6 .3l.6-.4l.6 .3l.6-.3l.6 .3l.6-.2l.6 .2l.6-.4l.6 .5l.6-.5l.6 .4l.6-.3l.7 .3l.6-.3l.6 .4l.6-.4l.6 .5l.6-.4l.6 .3l.6-.4l.6 .4l.6-.4l.6 .4l.6-.3l.6 .2l.6-.3l.6 .5l.6-.4l.6 .3l.6-.3l.6 .3l.6-.3l.6 .3l.6-.4l.6 .4l.6-.3l.6 .3l.6-.3l.6 .3l.6-.4l.6 .4l.6-.2l.6 .2l.6-.4l.6 .4l.6-.3l.6 .4l.6-.4l.6 .3l.6-.3l.6 .3l.6-.2l.6 .2l.6-.3l.6 .4l.6-.4l.6 .4l.6-.4l.6 .5l.6-.5l.6 .4l.6-.3l.6 .2l.6-.3l.6 .3l.6-.3l.6 .4l.6-.4l.6 .4l.6-.4l.6 .3l.6-.2l.6 .3l.6-.4l.6 .3l.6-.4l.6 .5l.6-.4l.6 .5l.6-.4l.6 .4l.6-.5l.6 .5l.6-.4l.6 .4l.6-.5l.6 .3l.6-.2l.6 .4l.6-.4l.6 .4l.6-.4l.7 .3l.6-.3l.6 .3l.6-.3l.6 .3l.6-.3l.6 .4l.6-.4l.6 .3l.6-.3l.6 .4l.6-.4l.6 .3l.6-.3l.6 .4l.6-.5l.6 .5l.6-.5l.6 .4l.6-.4l.6 .4l.6-.3l.6 .4l.6-.4l.6 .4l.6-.4l.6 .3l.6-.3l.6 .3l.6-.3l.6 .4l.6-.4l.6 .4l.6-.3l.6 .3l.6-.4l.6 .4l.6-.5l.6 .5l.6-.3l.6 .3l.6-.4l.6 .3l.6-.3l.6 .2l.6-.3l.6 .2l.6-.2l.6 .3l.6-.4l.6 .3l.6-.5l.6 .4l.6-.4l.6 .5l.6-.5l.6 .3l.6-.4l.6 .3l.6-.2l.6 .3l.6-.4l.6 .2l.6-.2l.6 .3l.7-.4l.7-.1l.7-.2l3.6-8.6l1.6-14.2l2.3-5.3l2.6 5.3l2 14.2l3.6 7.9l.6 .2l.5 .2l.5 .5l.6-.1l.6 .3l.6-.2l.7 .4l.6-.2l.6 .3l.7-.2l.6 .4l.6-.4l.6 .3l.6-.3l.6 .4l.6-.4l.6 .3l.6-.3l.6 .4l.6-.4l.6 .3l.6-.2l.6 .2l.6-.1l.6 .2l.6-.4l.6 .4l.6-.3l.6 .2l.6-.2l.6 .3l.6-.4l.6 .4l.6-.3l.6 .3l.6-.4l.6 .3l.6-.2l.6 .3l.6-.3l.6 .3l.6-.3l.6 .3l.6-.3l.6 .3l.6-.3l.6 .2l.6-.3l.6 .4l.6-.4l.6 .4l.6-.3l.6 .2l.6-.2l.6 .3l.6-.4l.6 .3l.6-.3l.6 .4l.6-.3l.6 .2l.6-.2l.6 .3l.6-.3l.6 .3l.6-.4l.6 .4l.6-.2l.6 .1l.6-.3l.6 .4l.6-.3l.6 .3l.6-.4l.6 .4l.6-.4l.6 .4l.6-.3l.6 .3l.6-.3l.6 .3l.6-.4l.6 .4l.6-.4l.6 .4l.6-.4l.6 .3l.6-.2l.6 .3l.6-.3l.6 .3l.6-.3l.6 .2l.6-.2l.6 .2l.6-.3l.6 .4l.6-.4l.6 .4l.6-.4l.6 .3l.6-.2l.6 .2l.6-.2l.6 .2l.6-.3l.6 .3l.6-.3l.6 .3l.6-.3l.6 .4l.6-.4l.6 .3l.6-.2l.6 .3l.6-.4l.6 .3l.6-.3l.6 .3l.6-.3l.6 .4l.6-.4l.6 .3l.6-.3l.6 .3l.6-.3l.6 .4l.6-.3l.6 .3l.6-.3l.6 .2l.6-.2l.6 .3l.6-.3l.6 .3l.6-.3l.6 .3l.6-.3l.6 .3l.6-.4l.6 .4l.6-.3l.6 .3l.6-.3l.6 .2l.6-.2l.6 .3l.6-.3l.6 .3l.6-.3l.6 .3l.6-.4l.6 .4l.6-.3l.6 .2l.6-.2l.6 .2l.6-.2l.6 .2l.6-.3l.6 .2l.6 0l.6 .2l.6-.4l.6 .3l.6-.3l.6 .4l.6-.3l.6 .3l.6-.4l.6 .3l.6-.2l.6 .2l.6-.3l.6 .4l.6-.4l.6 .4l.6-.4l.6 .3l.6-.2l.6 .3l.6-.4l.6 .4l.6-.3l.6 .3l.6-.3l.6 .2l.6-.2l.6 .3l.6-.3l.6 .3l.6-.4l.6 .4l.6-.3l.6 .3l.6-.3l.6 .3l.6-.4l.6 .3l.6-.2l.6 .3l.6-.3l.6 .2l.6-.3l.6 .3l.6-.2l.6 .2l.6-.3l.6 .3l.6-.2l.6 .2l.6-.2l.6 .2l.6-.2l.6 .3l.6-.3l.6 .2l.6-.3l.6 .3l.6-.2l.6 .2l.6-.3l.6 .3l.6-.3l.6 .3l.6-.3l.6 .4l.6-.3l.6 .2l.6-.2l.6 .2l.6-.2l.6 .3l.6-.3l.6 .2l.6-.3l.6 .3l.6-.4l.6 .4l.7-.4l.6 .1l.6-.4l.7 .3l.6-.4l.6 .3l.6-.5l.6 0l.7-.4l.6-.1l3.6-5l2.1-6.9l2.4-2.5l2.6 2.5l2.1 6.9l3.6 5l.6 .1l.6 .3l.7 .2l.6 .4l.6-.1l.6 .3l.6-.3l.6 .3l.7-.3l.6 .3l.6-.1l.6 .3l.6-.4l.6 .5l.7-.3l.6 .3l.6-.4l.6 .4l.6-.2l.6 .2l.6-.2l.6 .3l.6-.4l.6 .3l.6-.3l.6 .4l.6-.3l.6 .2l.6-.2l.6 .2l.6-.2l.6 .3l.6-.3l.6 .2l.6-.1l.6 .1l.6-.2l.6 .3l.6-.3l.6 .2l.6-.3l.6 .4l.6-.4l.6 .4l.6-.3l.6 .2l.6-.2l.6 .3l.6-.3l.6 .4l.6-.4l.6 .2l.6-.2l.6 .2l.6-.1l.6 .2l.6-.3l.6 .4l.6-.4l.6 .3l.6-.3l.6 .3l.6-.2l.6 .3l.6-.4l.6 .3l.6-.2l.6 .2l.6-.3l.6 .3l.6-.3l.6 .3l.6-.2l.6 .2l.6-.3l.5 .3l.6-.2l.6 .3l.6-.2l.6 .1l.6-.2l.6 .3l.6-.3l.6 .3l.6-.3l.6 .2l.6-.2l.6 .3l.6-.4l.6 .4l.6-.3l.6 .3l.6-.3l.6 .3l.6-.4l.6 .4l.6-.3l.6 .3l.6-.3l.6 .3l.6-.2l.6 .2l.6-.3l.6 .3l.6-.3l.6 .3l.6-.3l.6 .4l.6-.4l.6 .3l.6-.2l.6 .3l.6-.3l.6 .2l.6-.3l.6 .3l.6-.2l.6 .2l.6-.3l.6 .3l.6-.3l.6 .3l.6-.2l.6 .3l.6-.3l.6 .2l.6-.2l.6 .2l.6-.2l.6 .2l.6-.3l.6 .2"/>
<path stroke="#f00" stroke-width="2.6" stroke-opacity="1" fill="none" d="M1732.6 535L1732.6 652"/>
<path stroke="#f00" stroke-width="2.6" stroke-opacity="0.45" fill="none" d="M1732.6 652L1732.7 700"/>
<path stroke="#f00" stroke-width="2.6" stroke-opacity="1" fill="none" d="M2054.6 704L2054.7 723"/>
<path stroke="#f00" stroke-width="2.6" stroke-opacity="1" fill="none" d="M2220.6 716L2220.6 724.5"/>
<path class="c" stroke="#00f" d="M1383.6 528.5l.6-5.1l.6 3.4l.6-2.2l.5 3.3l.6-3.9l.6 3.1l.6-2.5l.6 2.2l.6-2.2l.5 2.7l.6-2.7l.6 2.6l.6-2.5l.6 2.3l.6-1.8l.6 2.5l.6-2l.5 1.8l.6-1.5l.6 1.8l.6-1.5l.6 1.9l.6-1.6l.6 1.4l.6-1.3l.6 1.6l.5-1.4l.6 1.6l.6-1.5l.6 1.5l.6-1l.6 .7l.6-1.1l.6 1.6l.6-1.3l.6 1.3l.6-1.8l.6 1.7l.6-1.7l.6 1.4l.6-1.1l.6 1.5l.6-1.9l.6 1.7l.6-1.6l.6 1.6l.6-1.4l.6 .9l.7-1.2l.6 1.5l.6-1.4l.6 1.1l.6-1.2l.7 1.7l.6-1.8l.6 1.6l.6-1.7l.6 1.4l.6-1.3l.7 1.6l.6-1.8l.6 1.5l.6-1.4l.6 1.6l.7-1l.6 .8l.6-.8l.6 1.6l.6-1.3l.6 1.2l.7-1.1l.6 1.1l.6-1.3l.6 1.2l.6-.7l.7 1l.6-1.4l.6 1.2l.6-1.1l.6 1.1l.6-1.4l.6 1l.6-1l.6 .5l.6-1.2l.6 .8l.6-1.2l.6 .8l.6-.8l.6 .8l.6-1.1l.6 .6l.5-.7l.6 .3l.6-.7l.6 .5l.6-.8l.6 .8l.6-.8l.6 .8l.6-.3l.6 .6l.6-.3l.6 .7l.6-.3l.6 .6l.5-.4l.6 .8l.6-.4l.6 .7l.6-.4l.6 .6l.6-.5l.6 .3l.6-.6l.7 .6l.6-.7l.6 .7l.6-.9l.6 .4l.7-.5l.6 .3l.6-.5l.6 .5l.6-.7l.6 .4l.7-.5l.6 .6l.6-.6l.6 .6l.6-.8l.5 .7l.6-.5l.6 .5l.6-.6l.6 .9l.6-.8l.6 .6l.6-.7l.6 .7l.5-.9l.6 .9l.6-.4l.6 .6l.6-.9l.6 .6l.6-.7l.6 .9l.6-.8l.6 .8l.6-.9l.6 .3l.6-1.2l.6 1l.7-1.5l.6 1l.6-1.1l.6 .9l.6-.9l.7 1.4l.6-1.2l.6 1.3l.6-.7l.6 .9l.6-.7l.7 1.5l.6-1.2l.6 1.2l.6-.8l.6 .4l.6-1.1l.6 .5l.6-1l.6 .6l.5-1.2l.6 .8l.6-.6l.6 .9l.6-.2l.6 .7l.6-.5l.6 .9l.6-.1l.6 .2l.7-.9l.6 0l.7-1.1l.7 .6l.6-.5l.6 .6l.6-.6l.6 .8l.6-.7l.6 .6l.6-.5l.6 1l.6-.8l.6 1l.6-.8l.6 .8l.7-.5l.6 .7l.6-.5l.6 .5l.6-.6l.6 1l.6-.8l.6 .7l.6-1l.6 .9l.6-1l.6 .8l.6-1.2l.6 .7l.6-.7l.6 .3l.6-.7l.6 .7l.6-.9l.6 .9l.6-.7l.6 .7l.6-.7l.6 .6l.6-.9l.7 .8l.6-.7l.6 .6l.6-.6l.6 .4l.6-.3l.6 .3l.6-.3l.6 .2l.6-.3l.6 .4l.6-.5l.7 .5l.6-.3l.6 .5l.6-.4l.6 .6l.6-.7l.7 1.5l.6-.9l.6 1l.6-1.3l.6 1.3l.7-1.2l.6 1.3l.6-1.4l.6 1.3l.6-1.2l.6 1.4l.6-1.5l.6 1.2l.6-1.3l.6 .9l.6-.8l.6 .8l.6-.9l.6 .6l.6-.7l.6 .4l.6-.4l.6 .6l.6-.5l.6 .5l.6-.4l.6 .6l.5-.5l.6 .7l.6-.7l.6 .7l.6-.5l.6 .8l.6-.7l.6 .8l.6-.6l.6 .2l.6-.7l.6 .6l.7-.8l.6 .5l.6-.6l.6 .3l.6-.3l.6 .7l.5-.4l.6 .5l.6-.2l.6 .7l.6-.2l.5 .4l.6-.3l.6 .6l.6-.5l.6 .3l.6-.4l.6 .3l.6-.6l.6 .6l.6-.8l.7 .8l.6-1l.6 .7l.6-.7l.6 .7l.6-.9l.6 .8l.6-.9l.6 1.1l.6-.8l.5 .7l.6-.6l.6 .5l.6-.5l.6 .6l.6-.6l.6 .7l.6-.4l.5 .3l.6-.4l.6 .5l.6-.4l.6 .4l.6-.3l.6 .3l.6-.5l.6 .6l.6-.4l.6 .5l.6-.4l.6 .3l.7-.2l.6 .3l.6-.3l.6 .4l.6-.4l.6 .3l.6-.2l.6 .3l.6-.3l.6 .5l.6-.5l.6 .4l.6-.3l.6 .4l.6-.2l.6 .3l.7-.3l.6 .4l.6-.5l.6 .5l.6-.4l.6 .5l.6-.5l.6 .5l.6-.5l.6 .6l.6-.4l.6 .5l.6-.5l.7 .8l.6-.3l.6 .3l.6-.3l.6 .5l.6-.2l.6 .4l.6-.2l.7 .5l.6-.4l.6 .5l.6-.4l.6 .5l.6-.5l.6 .5l.6-.4l.6 .5l.6-.4l.6 .4l.6-.4l.6 .3l.6-.3l.6 .3l.6-.3l.6 .2l.6-.2l.6 .5l.6-.6l.6 .5l.6-.4l.6 .5l.6-.5l.6 .5l.6-.5l.6 .5l.6-.3l.6 .3l.6-.4l.6 .4l.6-.3l.6 .2l.5-.3l.6 .5l.6-.4l.6 .5l.6-.5l.6 .3l.6-.2l.6 .3l.6-.3l.6 .3l.6-.4l.6 .5l.6-.4l.6 .3l.6-.4l.6 .6l.6-.6l.6 .5l.6-.3l.6 .3l.6-.2l.6 .3l.6-.5l.6 .5l.6-.5l.6 .6l.6-.5l.6 .5l.6-.5l.6 .4l.6-.5l.6 .5l.6-.4l.6 .5l.6-.6l.6 .5l.6-.4l.6 .3l.6-.3l.6 .3l.6-.4l.6 .5l.6-.3l.6 .3l.6-.5l.6 .6l.6-.4l.6 .2l.6-.3l.6 .5l.5-.5l.6 .4l.6-.4l.6 .5l.6-.5l.6 .5l.6-.6l.6 .6l.6-.6l.6 .6l.6-.5l.6 .4l.6-.4l.6 .4l.6-.5l.6 .4l.6-.4l.6 .4l.6-.4l.6 .6l.6-.4l.6 .4l.6-.4l.6 .2l.6-.3l.6 .4l.6-.5l.6 .5l.6-.4l.6 .4l.6-.4l.6 .4l.6-.5l.6 .5l.6-.4l.6 .5l.6-.4l.6 .3l.6-.5l.6 .5l.6-.4l.6 .4l.6-.4l.6 .5l.5-.5l.6 .3l.6-.2l.6 .2l.6-.3l.6 .4l.6-.3l.6 .3l.6-.4l.6 .3l.6-.2l.6 .4l.6-.5l.6 .5l.6-.4l.6 .3l.6-.4l.6 .4l.6-.4l.6 .4l.6-.4l.6 .4l.6-.6l.6 .3l.6-.6l.6 .1l.6-.6l.6 .3l.6-.8l.5 0l.6-.7l.6 .2l.6-.7l.6 .2l.6-.7l.6 .3l.6-.5l.6 .3l.6-.5l.6 .5l.6-.5l.6 .3l.5-.5l.6 .3l.6-.4l.6 .2l.6-.4l.6 .3l.6-.5l.6 .2l.6-.5l.5 .3l.6-.3l.6 .2l.6-.4l.6 .3l.6-.5l.7 .2l.6-.8l.7-.2l.6-.6l.7-.2l2.7-3.3l2.9-13.4l1.5-14.8l.8-58l1-57l.7-75l.5-130l1-55l1-34.3l1 34.3l.7 85l.9 60l.6 140l1.2 70l.5 25l1.2 12.1l2.4 12.4l3.9 4l.6 .2l.6 .5l.6 .2l.5 .7l.6 .1l.6 .5l.6-.2l.6 .5l.6-.2l.6 .4l.5-.2l.6 .6l.6-.3l.6 .6l.6-.1l.6 .4l.6-.2l.6 .6l.6-.1l.6 .5l.5-.2l.6 .5l.6-.3l.6 .5l.6-.3l.6 .4l.6-.5l.6 .4l.6-.3l.6 .3l.6-.3l.6 .3l.6-.3l.6 .4l.6-.4l.6 .4l.6-.3l.6 .3l.6-.3l.6 .3l.6-.3l.6 .3l.6-.4l.6 .3l.7-.2l.6 .3l.6-.3l.6 .4l.6-.4l.6 .3l.6-.4l.6 .4l.6-.3l.6 .2l.6-.3l.6 .3l.6-.3l.6 .3l.6-.3l.6 .3l.6-.2l.6 .3l.6-.3l.6 .3l.6-.4l.6 .4l.6-.4l.6 .5l.6-.5l.6 .4l.6-.4l.6 .5l.6-.5l.6 .3l.6-.2l.6 .3l.6-.4l.6 .4l.6-.4l.6 .4l.6-.4l.6 .4l.7-.3l.6 .3l.6-.3l.6 .3l.6-.4l.6 .4l.6-.4l.6 .4l.6-.3l.6 .2l.6-.4l.6 .4l.6-.3l.6 .3l.6-.3l.6 .3l.6-.3l.6 .4l.6-.4l.6 .3l.6-.3l.6 .4l.6-.3l.6 .2l.6-.2l.6 .3l.6-.4l.6 .3l.6-.3l.6 .4l.6-.5l.6 .4l.6-.2l.6 .2l.6-.3l.6 .4l.6-.3l.6 .3l.7-.4l.6 .4l.6-.4l.6 .3l.6-.3l.6 .4l.6-.3l.6 .2l.6-.2l.6 .3l.6-.5l.6 .5l.6-.3l.6 .3l.6-.4l.6 .3l.6-.3l.6 .4l.6-.3l.6 .3l.6-.5l.6 .4l.6-.5l.6 .3l.7-.5l.6 .4l.6-.5l.6 .3l.6-.6l.6 .4l.6-.5l.6 .2l.6-.3l.7 .2l.6-.6l.6 .3l.6-.3l.6 .2l.6-.3l.6 .4l.6-.3l.6 .2l.6-.3l.6 .4l.6-.4l.6 .3l.6-.3l.6 .4l.5-.3l.6 .3l.6-.4l.6 .3l.6-.4l.6 .5l.6-.4l.6 .3l.6-.2l.6 .2l.6-.2l.6 .2l.6-.3l.6 .4l.6-.3l.6 .2l.6-.3l.6 .4l.6-.4l.6 .4l.6-.4l.5 .3l.6-.3l.6 .3l.6-.3l.6 .4l.6-.4l.6 .3l.6-.3l.6 .3l.6-.4l.6 .5l.6-.3l.6 .4l.6-.2l.6 .5l.5-.3l.6 .4l.6-.3l.6 .7l.6-.3l.6 .6l.6-.3l.6 .4l.5-.3l.6 .6l.6-.2l.6 .3l.6-.2l.6 .2l.6-.4l.6 .5l.6-.5l.6 .5l.6-.5l.6 .5l.6-.4l.6 .4l.6-.4l.6 .4l.6-.4l.6 .4l.6-.4l.6 .4l.6-.4l.6 .3l.6-.3l.6 .4l.6-.4l.6 .4l.6-.4l.6 .4l.6-.4l.6 .4l.6-.4l.6 .4l.6-.5l.6 .4l.6-.3l.6 .4l.6-.3l.6 .3l.6-.4l.6 .3l.6-.3l.6 .3l.6-.3l.6 .4l.6-.4l.6 .4l.6-.4l.6 .4l.6-.4l.6 .3l.6-.3l.6 .4l.6-.4l.6 .3l.6-.3l.6 .3l.6-.3l.6 .4l.6-.5l.6 .5l.6-.5l.6 .4l.6-.3l.6 .3l.6-.3l.6 .4l.6-.4l.6 .3l.6-.3l.6 .4l.6-.5l.6 .5l.6-.4l.6 .3l.6-.4l.6 .5l.6-.5l.6 .4l.6-.4l.6 .3l.6-.1l.6 .2l.6-.3l.6 .3l.6-.4l.6 .4l.6-.4l.6 .4l.6-.2l.6 .2l.6-.4l.6 .3l.6-.2l.6 .4l.6-.5l.6 .5l.6-.4l.6 .2l.6-.2l.6 .4l.6-.5l.6 .3l.6-.3l.6 .4l.6-.4l.6 .4l.6-.5l.6 .5l.6-.4l.6 .3l.6-.3l.6 .4l.6-.4l.6 .4l.6-.3l.6 .3l.6-.4l.6 .3l.6-.2l.6 .3l.6-.3l.6 .3l.6-.4l.6 .3l.6-.3l.6 .3l.6-.4l.6 .5l.6-.4l.6 .4l.6-.4l.6 .3l.6-.2l.6 .1l.6-.2l.6 .4l.6-.5l.6 .5l.6-.4l.6 .3l.6-.2l.6 .2l.6-.4l.6 .5l.6-.5l.6 .4l.6-.4l.6 .4l.6-.4l.6 .4l.6-.3l.6 .3l.6-.3l.6 .3l.6-.4l.6 .4l.6-.4l.6 .4l.6-.4l.6 .4l.6-.3l.6 .3l.6-.3l.6 .3l.6-.2l.6 .2l.6-.5l.6 .6l.6-.4l.6 .2l.6-.2l.6 .2l.6-.2l.6 .3l.6-.4l.6 .3l.6-.2l.6 .3l.6-.4l.6 .5l.6-.5l.6 .4l.6-.4l.6 .4l.6-.4l.6 .4l.6-.3l.6 .4l.6-.5l.6 .3l.6-.3l.6 .3l.6-.3l.6 .3l.6-.3l.6 .4l.6-.4l.6 .3l.6-.3l.6 .3l.6-.3l.6 .4l.6-.4l.6 .4l.6-.5l.6 .4l.6-.2l.6 .2l.6-.4l.6 .5l.6-.4l.6 .4l.6-.5l.6 .5l.6-.4l.6 .3l.6-.3l.6 .4l.6-.4l.6 .3l.6-.4l.6 .4l.6-.3l.6 .3l.6-.3l.6 .4l.6-.5l.6 .4l.6-.4l.6 .5l.6-.3l.6 .2l.6-.3l.6 .3l.6-.3l.6 .4l.6-.5l.6 .5l.6-.4l.6 .3l.6-.3l.6 .4l.6-.4l.6 .3l.6-.3l.6 .3l.6-.3l.6 .3l.6-.2l.6 .2l.6-.5l.6 .4l.6-.2l.6 .2l.6-.3l.6 .3l.6-.3l.6 .4l.6-.3l.6 .2l.6-.4l.6 .5l.6-.3l.6 .3l.6-.3l.6 .3l.6-.4l.6 .4l.6-.4l.6 .4l.6-.3l.6 .3l.6-.3l.6 .3l.6-.4l.6 .4l.6-.4l.6 .5l.6-.5l.6 .3l.6-.3l.6 .3l.6-.5l.6 .3l.7-.4l.6 .2l.6-.4l.6 .3l.6-.4l.6 .2l.6-.5l.5-.1l.6-.2l2.5-7.5l1.4-12.4l1.5-5.6l1.4-1.8l1.4 1.8l1.5 5.6l2.1 12.4l3.1 7.4l.5 .1l.6 .1l.5 .3l.6 0l.5 .4l.6-.3l.6 .5l.5-.3l.6 .4l.6-.3l.6 .4l.5-.4l.6 .4l.6-.3l.6 .3l.6-.3l.6 .4l.6-.3l.6 .3l.6-.3l.6 .3l.6-.4l.6 .4l.6-.4l.6 .3l.6-.4l.6 .5l.6-.4l.6 .3l.6-.2l.6 .3l.6-.4l.6 .4l.6-.3l.6 .3l.6-.4l.6 .2l.6-.2l.6 .4l.6-.4l.6 .3l.6-.3l.6 .4l.6-.5l.6 .3l.6-.2l.6 .2l.6-.2l.6 .3l.6-.4l.6 .3l.6-.3l.6 .4l.6-.4l.6 .3l.6-.4l.6 .5l.6-.3l.6 .3l.6-.5l.6 .4l.6-.2l.6 .3l.6-.3l.6 .2l.6-.2l.6 .3l.5-.3l.6 .2l.6-.3l.6 .4l.6-.3l.6 .1l.6-.2l.6 .4l.6-.4l.6 .4l.6-.5l.6 .4l.6-.4l.6 .4l.6-.4l.6 .4l.6-.3l.6 .4l.6-.4l.6 .3l.6-.3l.6 .3l.6-.3l.6 .3l.6-.4l.6 .5l.6-.5l.6 .3l.6-.3l.6 .3l.6-.4l.6 .5l.6-.4l.6 .4l.6-.4l.6 .3l.6-.4l.6 .5l.6-.4l.6 .3l.6-.4l.6 .4l.6-.3l.6 .2l.6-.3l.6 .4l.6-.4l.6 .4l.6-.3l.6 .3l.6-.4l.6 .4l.6-.4l.6 .4l.6-.3l.6 .3l.6-.3l.6 .3l.6-.4l.6 .2l.6-.2l.6 .3l.6-.3l.6 .4l.6-.3l.6 .2l.6-.3l.6 .3l.6-.4l.6 .4l.6-.3l.6 .3l.6-.4l.6 .4l.6-.4l.6 .3l.6-.3l.6 .4l.6-.4l.6 .4l.6-.4l.6 .3l.6-.2l.6 .3l.6-.3l.6 .2l.6-.3l.6 .4l.6-.3l.6 .3l.6-.5l.6 .5l.6-.4l.6 .3l.6-.3l.6 .3l.6-.3l.6 .4l.6-.4l.6 .3l.6-.4l.6 .5l.6-.5l.6 .4l.6-.3l.6 .3l.6-.4l.6 .5l.5-.5l.6 .3l.6-.3l.6 .4l.6-.3l.6 .3l.6-.4l.6 .4l.6-.4l.6 .4l.6-.4l.6 .3l.6-.3l.6 .3l.6-.3l.6 .4l.6-.3l.6 .2l.6-.3l.6 .3l.6-.4l.6 .5l.6-.5l.6 .5l.6-.5l.6 .5l.6-.4l.6 .4l.6-.4l.6 .3l.6-.3l.6 .4l.6-.4l.6 .4l.6-.4l.6 .3l.6-.5l.6 .5l.6-.4l.6 .4l.6-.4l.6 .4l.6-.4l.6 .3l.6-.2l.6 .2l.6-.2l.6 .3l.6-.4l.6 .4l.6-.4l.6 .4l.6-.3l.6 .3l.6-.3l.6 .2l.6-.3l.6 .2l.6-.3l.5 .3l.6-.6l.6 .4l.6-.5l.6 .3l.6-.3l.6 .2l.6-.5l.5 .4l.6-.5l.6 .3l.6-.3l.6 .4l.6-.6l.6 .1l.5-.4l.6-.1l.6-.2l3.1-6.1l1.8-12.4l1.4-5.1l1.3-1.7l1.5 1.7l1.8 5.1l2.1 12.4l3.1 6.8l.6 .1l.5-.1l.6 .3l.6-.2l.6 .3l.5-.3l.6 .4l.6-.3l.6 .4l.6-.3l.5 .3l.6-.2l.6 .2l.6-.3l.6 .4l.5-.3l.6 .3l.6-.3l.6 .3l.6-.3l.6 .5l.6-.5l.6 .3l.6-.3l.6 .4l.6-.3l.6 .3l.6-.3l.6 .3l.6-.3l.6 .2l.6-.2l.6 .2l.6-.3l.6 .4l.6-.3l.6 .2l.6-.2l.6 .3l.6-.4l.6 .3l.6-.3l.6 .5l.6-.4l.6 .3l.6-.4l.6 .4l.6-.4l.6 .4l.6-.5l.6 .6l.6-.4l.6 .2l.6-.2l.6 .3l.6-.4l.6 .3l.6-.2l.6 .4l.6-.6l.6 .4l.6-.4l.6 .4l.6-.3l.6 .4l.6-.4l.6 .4l.6-.4l.6 .3l.6-.2l.6 .3l.6-.3l.6 .2l.6-.3l.6 .3l.6-.3l.5 .3l.6-.2l.6 .3l.6-.4l.6 .4l.6-.4l.6 .4l.6-.3l.6 .2l.6-.3l.6 .4l.6-.3l.6 .3l.6-.4l.6 .4l.6-.3l.6 .3l.6-.4l.6 .3l.6-.2l.6 .3l.6-.4l.6 .4l.6-.4l.6 .3l.6-.3l.6 .4l.6-.3l.6 .3l.6-.4l.6 .3l.6-.2l.6 .4l.6-.5l.6 .5l.6-.4l.6 .2l.6-.3l.6 .4l.6-.4l.6 .3l.6-.2l.6 .4l.6-.6l.6 .4l.6-.2l.6 .4l.6-.6l.6 .5l.6-.4l.6 .4l.6-.3l.6 .3l.6-.3l.6 .4l.6-.4l.6 .1"/>
<path stroke="#00f" stroke-width="2.6" stroke-opacity="1" fill="none" d="M1732.9 200L1732.9 385"/>
<path stroke="#00f" stroke-width="2.6" stroke-opacity="0.45" fill="none" d="M1732.9 385L1733 480"/>
<path stroke="#00f" stroke-width="2.6" stroke-opacity="1" fill="none" d="M2054.6 504L2054.6 523"/>
<path stroke="#00f" stroke-width="2.6" stroke-opacity="1" fill="none" d="M2220.5 505L2220.5 523"/>
</g>
</g>
<g filter="url(#bf)"><rect x="850.2" y="125.2" width="156.1" height="189.1" rx="1" fill="#fff" stroke="#727272" stroke-width="2"/></g>
<g filter="url(#bc)" stroke-linecap="round" stroke-width="5.2" fill="none">
<path stroke="#000" d="M873.6 154.1H956.6"/>
<path stroke="#f00" d="M873.6 200.5H956.6"/>
<path stroke="#00f" d="M873.6 246.6H956.6"/>
<path stroke="#f0f" d="M873.6 292.8H956.6"/>
</g>
<g filter="url(#bt)">
<text transform="translate(966.6 166.5) scale(1 1.03)" font-size="37.5" text-anchor="start">A</text>
<text transform="translate(966.6 212.9) scale(1 1.03)" font-size="37.5" text-anchor="start">B</text>
<text transform="translate(966.6 259.0) scale(1 1.03)" font-size="37.5" text-anchor="start">C</text>
<text transform="translate(966.6 305.2) scale(1 1.03)" font-size="37.5" text-anchor="start">D</text>
</g>
<g filter="url(#bf)"><rect x="2071.6" y="81.1" width="159.3" height="139.7" rx="1" fill="#fff" stroke="#727272" stroke-width="2"/></g>
<g filter="url(#bc)" stroke-linecap="round" stroke-width="5.2" fill="none">
<path stroke="#000" d="M2095.7 108.0H2177.9"/>
<path stroke="#f00" d="M2095.7 153.7H2177.9"/>
<path stroke="#00f" d="M2095.7 199.3H2177.9"/>
</g>
<g filter="url(#bt)">
<text transform="translate(2188.0 120.9) scale(1 1.03)" font-size="37.5" text-anchor="start">E</text>
<text transform="translate(2188.0 166.6) scale(1 1.03)" font-size="37.5" text-anchor="start">F</text>
<text transform="translate(2188.0 212.2) scale(1 1.03)" font-size="37.5" text-anchor="start">G</text>
</g>
<g filter="url(#bt)">
<g class="t">
<text transform="translate(155.8 853.7) scale(1 1.07)" font-size="32.3" text-anchor="end">0</text>
<text transform="translate(155.8 748.0) scale(1 1.07)" font-size="32.3" text-anchor="end">100</text>
<text transform="translate(155.8 642.4) scale(1 1.07)" font-size="32.3" text-anchor="end">200</text>
<text transform="translate(155.8 536.7) scale(1 1.07)" font-size="32.3" text-anchor="end">300</text>
<text transform="translate(155.8 431.1) scale(1 1.07)" font-size="32.3" text-anchor="end">400</text>
<text transform="translate(155.8 325.4) scale(1 1.07)" font-size="32.3" text-anchor="end">500</text>
<text transform="translate(155.8 219.7) scale(1 1.07)" font-size="32.3" text-anchor="end">600</text>
<text transform="translate(155.8 114.1) scale(1 1.07)" font-size="32.3" text-anchor="end">700</text>
<text transform="translate(282.7 893.0) scale(1 1.07)" font-size="32.3" text-anchor="middle">20</text>
<text transform="translate(490.2 893.0) scale(1 1.07)" font-size="32.3" text-anchor="middle">40</text>
<text transform="translate(697.8 893.0) scale(1 1.07)" font-size="32.3" text-anchor="middle">60</text>
<text transform="translate(905.4 893.0) scale(1 1.07)" font-size="32.3" text-anchor="middle">80</text>
<text transform="translate(1113.9 893.0) scale(1 1.07)" font-size="32.3" text-anchor="middle">100</text>
<text transform="translate(1361.3 823.7) scale(1 1.07)" font-size="31.98" text-anchor="end">0</text>
<text transform="translate(1361.3 752.7) scale(1 1.07)" font-size="31.98" text-anchor="end">500</text>
<text transform="translate(1361.3 681.7) scale(1 1.07)" font-size="31.98" text-anchor="end">1000</text>
<text transform="translate(1361.3 610.7) scale(1 1.07)" font-size="31.98" text-anchor="end">1500</text>
<text transform="translate(1361.3 539.7) scale(1 1.07)" font-size="31.98" text-anchor="end">2000</text>
<text transform="translate(1361.3 468.7) scale(1 1.07)" font-size="31.98" text-anchor="end">2500</text>
<text transform="translate(1361.3 397.7) scale(1 1.07)" font-size="31.98" text-anchor="end">3000</text>
<text transform="translate(1361.3 326.7) scale(1 1.07)" font-size="31.98" text-anchor="end">3500</text>
<text transform="translate(1361.3 255.7) scale(1 1.07)" font-size="31.98" text-anchor="end">4000</text>
<text transform="translate(1361.3 184.7) scale(1 1.07)" font-size="31.98" text-anchor="end">4500</text>
<text transform="translate(1361.3 113.7) scale(1 1.07)" font-size="31.98" text-anchor="end">5000</text>
<text transform="translate(1486.2 870.1) scale(1 1.07)" font-size="31.98" text-anchor="middle">20</text>
<text transform="translate(1691.3 870.1) scale(1 1.07)" font-size="31.98" text-anchor="middle">40</text>
<text transform="translate(1896.5 870.1) scale(1 1.07)" font-size="31.98" text-anchor="middle">60</text>
<text transform="translate(2101.7 870.1) scale(1 1.07)" font-size="31.98" text-anchor="middle">80</text>
<text transform="translate(2307.4 870.1) scale(1 1.07)" font-size="31.98" text-anchor="middle">100</text>
</g>
<text transform="translate(644.6 950.4) scale(1 1.01)" font-size="38.3" text-anchor="middle">2 Theta</text>
<text transform="translate(1844.3 926.6) scale(1 1.01)" font-size="37.99" text-anchor="middle">2 Theta</text>
<text transform="translate(56.0 443.8) rotate(-90) scale(1 1.01)" font-size="38.3" text-anchor="middle">Intensity (a.u)</text>
<text transform="translate(1244.6 422.2) rotate(-90) scale(1 1.01)" font-size="37.73" text-anchor="middle">Intensity (a.u)</text>
<text transform="translate(284.49 230.4) scale(0.84 1)" font-size="59.0" font-weight="bold" x="0.00 24.34 64.01" dy="-1.5 1.5 -1.5">(a)</text>
<text transform="translate(1482.31 230.2) scale(0.9 1)" font-size="59.0" font-weight="bold" x="0.00 23.29 62.21" dy="-1.5 1.5 -1.5">(b)</text>
</g>
</svg>
</body>
</html>
